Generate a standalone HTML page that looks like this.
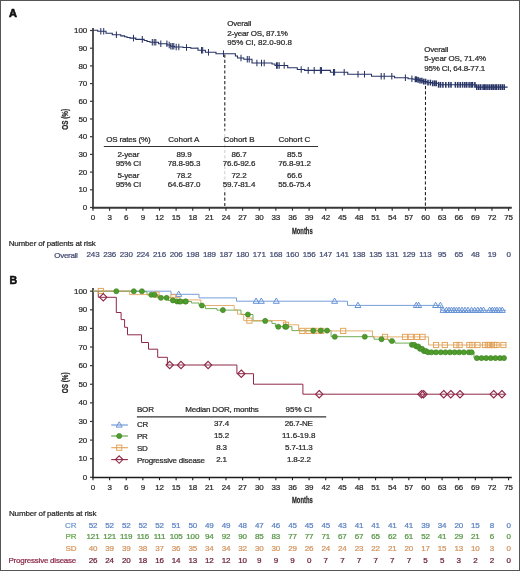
<!DOCTYPE html>
<html><head><meta charset="utf-8"><style>
html,body{margin:0;padding:0;background:#fff;}
#wrap{position:relative;width:520px;height:571px;overflow:hidden;background:#fff;}
#frame{position:absolute;left:0;top:0;width:518px;height:569px;border:1px solid #555;}
svg{position:absolute;left:0;top:0;will-change:transform;}
svg text{font-family:"Liberation Sans", sans-serif;}
</style></head><body>
<div id="wrap">
<svg width="520" height="571" viewBox="0 0 520 571">
<text x="9.1" y="16.6" font-size="11" font-weight="bold" fill="#111" stroke="#111" stroke-width="0.65">A</text>
<line x1="93" y1="28" x2="93" y2="208.3" stroke="#555" stroke-width="2"/>
<line x1="92" y1="207.8" x2="511.8" y2="207.8" stroke="#383838" stroke-width="2"/>
<line x1="90" y1="207.50" x2="93" y2="207.50" stroke="#3a3a3a" stroke-width="1.2"/>
<text x="0" y="0" font-size="8.00" letter-spacing="-0.15" fill="#2a2a2a" stroke="#2a2a2a" stroke-width="0.24" text-anchor="end" transform="translate(87.00,210.10)" >0</text>
<line x1="90" y1="189.80" x2="93" y2="189.80" stroke="#3a3a3a" stroke-width="1.2"/>
<text x="0" y="0" font-size="8.00" letter-spacing="-0.15" fill="#2a2a2a" stroke="#2a2a2a" stroke-width="0.24" text-anchor="end" transform="translate(87.00,192.40)" >10</text>
<line x1="90" y1="172.10" x2="93" y2="172.10" stroke="#3a3a3a" stroke-width="1.2"/>
<text x="0" y="0" font-size="8.00" letter-spacing="-0.15" fill="#2a2a2a" stroke="#2a2a2a" stroke-width="0.24" text-anchor="end" transform="translate(87.00,174.70)" >20</text>
<line x1="90" y1="154.40" x2="93" y2="154.40" stroke="#3a3a3a" stroke-width="1.2"/>
<text x="0" y="0" font-size="8.00" letter-spacing="-0.15" fill="#2a2a2a" stroke="#2a2a2a" stroke-width="0.24" text-anchor="end" transform="translate(87.00,157.00)" >30</text>
<line x1="90" y1="136.70" x2="93" y2="136.70" stroke="#3a3a3a" stroke-width="1.2"/>
<text x="0" y="0" font-size="8.00" letter-spacing="-0.15" fill="#2a2a2a" stroke="#2a2a2a" stroke-width="0.24" text-anchor="end" transform="translate(87.00,139.30)" >40</text>
<line x1="90" y1="119.00" x2="93" y2="119.00" stroke="#3a3a3a" stroke-width="1.2"/>
<text x="0" y="0" font-size="8.00" letter-spacing="-0.15" fill="#2a2a2a" stroke="#2a2a2a" stroke-width="0.24" text-anchor="end" transform="translate(87.00,121.60)" >50</text>
<line x1="90" y1="101.30" x2="93" y2="101.30" stroke="#3a3a3a" stroke-width="1.2"/>
<text x="0" y="0" font-size="8.00" letter-spacing="-0.15" fill="#2a2a2a" stroke="#2a2a2a" stroke-width="0.24" text-anchor="end" transform="translate(87.00,103.90)" >60</text>
<line x1="90" y1="83.60" x2="93" y2="83.60" stroke="#3a3a3a" stroke-width="1.2"/>
<text x="0" y="0" font-size="8.00" letter-spacing="-0.15" fill="#2a2a2a" stroke="#2a2a2a" stroke-width="0.24" text-anchor="end" transform="translate(87.00,86.20)" >70</text>
<line x1="90" y1="65.90" x2="93" y2="65.90" stroke="#3a3a3a" stroke-width="1.2"/>
<text x="0" y="0" font-size="8.00" letter-spacing="-0.15" fill="#2a2a2a" stroke="#2a2a2a" stroke-width="0.24" text-anchor="end" transform="translate(87.00,68.50)" >80</text>
<line x1="90" y1="48.20" x2="93" y2="48.20" stroke="#3a3a3a" stroke-width="1.2"/>
<text x="0" y="0" font-size="8.00" letter-spacing="-0.15" fill="#2a2a2a" stroke="#2a2a2a" stroke-width="0.24" text-anchor="end" transform="translate(87.00,50.80)" >90</text>
<line x1="90" y1="30.50" x2="93" y2="30.50" stroke="#3a3a3a" stroke-width="1.2"/>
<text x="0" y="0" font-size="8.00" letter-spacing="-0.15" fill="#2a2a2a" stroke="#2a2a2a" stroke-width="0.24" text-anchor="end" transform="translate(87.00,33.10)" >100</text>
<line x1="93.00" y1="207.5" x2="93.00" y2="210.7" stroke="#2a2a2a" stroke-width="1.1"/>
<text x="0" y="0" font-size="8.00" letter-spacing="-0.15" fill="#2a2a2a" stroke="#2a2a2a" stroke-width="0.24" text-anchor="middle" transform="translate(93.00,220.20)" >0</text>
<line x1="109.62" y1="207.5" x2="109.62" y2="210.7" stroke="#2a2a2a" stroke-width="1.1"/>
<text x="0" y="0" font-size="8.00" letter-spacing="-0.15" fill="#2a2a2a" stroke="#2a2a2a" stroke-width="0.24" text-anchor="middle" transform="translate(109.62,220.20)" >3</text>
<line x1="126.25" y1="207.5" x2="126.25" y2="210.7" stroke="#2a2a2a" stroke-width="1.1"/>
<text x="0" y="0" font-size="8.00" letter-spacing="-0.15" fill="#2a2a2a" stroke="#2a2a2a" stroke-width="0.24" text-anchor="middle" transform="translate(126.25,220.20)" >6</text>
<line x1="142.87" y1="207.5" x2="142.87" y2="210.7" stroke="#2a2a2a" stroke-width="1.1"/>
<text x="0" y="0" font-size="8.00" letter-spacing="-0.15" fill="#2a2a2a" stroke="#2a2a2a" stroke-width="0.24" text-anchor="middle" transform="translate(142.87,220.20)" >9</text>
<line x1="159.49" y1="207.5" x2="159.49" y2="210.7" stroke="#2a2a2a" stroke-width="1.1"/>
<text x="0" y="0" font-size="8.00" letter-spacing="-0.15" fill="#2a2a2a" stroke="#2a2a2a" stroke-width="0.24" text-anchor="middle" transform="translate(159.49,220.20)" >12</text>
<line x1="176.12" y1="207.5" x2="176.12" y2="210.7" stroke="#2a2a2a" stroke-width="1.1"/>
<text x="0" y="0" font-size="8.00" letter-spacing="-0.15" fill="#2a2a2a" stroke="#2a2a2a" stroke-width="0.24" text-anchor="middle" transform="translate(176.12,220.20)" >15</text>
<line x1="192.74" y1="207.5" x2="192.74" y2="210.7" stroke="#2a2a2a" stroke-width="1.1"/>
<text x="0" y="0" font-size="8.00" letter-spacing="-0.15" fill="#2a2a2a" stroke="#2a2a2a" stroke-width="0.24" text-anchor="middle" transform="translate(192.74,220.20)" >18</text>
<line x1="209.36" y1="207.5" x2="209.36" y2="210.7" stroke="#2a2a2a" stroke-width="1.1"/>
<text x="0" y="0" font-size="8.00" letter-spacing="-0.15" fill="#2a2a2a" stroke="#2a2a2a" stroke-width="0.24" text-anchor="middle" transform="translate(209.36,220.20)" >21</text>
<line x1="225.98" y1="207.5" x2="225.98" y2="210.7" stroke="#2a2a2a" stroke-width="1.1"/>
<text x="0" y="0" font-size="8.00" letter-spacing="-0.15" fill="#2a2a2a" stroke="#2a2a2a" stroke-width="0.24" text-anchor="middle" transform="translate(225.98,220.20)" >24</text>
<line x1="242.61" y1="207.5" x2="242.61" y2="210.7" stroke="#2a2a2a" stroke-width="1.1"/>
<text x="0" y="0" font-size="8.00" letter-spacing="-0.15" fill="#2a2a2a" stroke="#2a2a2a" stroke-width="0.24" text-anchor="middle" transform="translate(242.61,220.20)" >27</text>
<line x1="259.23" y1="207.5" x2="259.23" y2="210.7" stroke="#2a2a2a" stroke-width="1.1"/>
<text x="0" y="0" font-size="8.00" letter-spacing="-0.15" fill="#2a2a2a" stroke="#2a2a2a" stroke-width="0.24" text-anchor="middle" transform="translate(259.23,220.20)" >30</text>
<line x1="275.85" y1="207.5" x2="275.85" y2="210.7" stroke="#2a2a2a" stroke-width="1.1"/>
<text x="0" y="0" font-size="8.00" letter-spacing="-0.15" fill="#2a2a2a" stroke="#2a2a2a" stroke-width="0.24" text-anchor="middle" transform="translate(275.85,220.20)" >33</text>
<line x1="292.48" y1="207.5" x2="292.48" y2="210.7" stroke="#2a2a2a" stroke-width="1.1"/>
<text x="0" y="0" font-size="8.00" letter-spacing="-0.15" fill="#2a2a2a" stroke="#2a2a2a" stroke-width="0.24" text-anchor="middle" transform="translate(292.48,220.20)" >36</text>
<line x1="309.10" y1="207.5" x2="309.10" y2="210.7" stroke="#2a2a2a" stroke-width="1.1"/>
<text x="0" y="0" font-size="8.00" letter-spacing="-0.15" fill="#2a2a2a" stroke="#2a2a2a" stroke-width="0.24" text-anchor="middle" transform="translate(309.10,220.20)" >39</text>
<line x1="325.72" y1="207.5" x2="325.72" y2="210.7" stroke="#2a2a2a" stroke-width="1.1"/>
<text x="0" y="0" font-size="8.00" letter-spacing="-0.15" fill="#2a2a2a" stroke="#2a2a2a" stroke-width="0.24" text-anchor="middle" transform="translate(325.72,220.20)" >42</text>
<line x1="342.35" y1="207.5" x2="342.35" y2="210.7" stroke="#2a2a2a" stroke-width="1.1"/>
<text x="0" y="0" font-size="8.00" letter-spacing="-0.15" fill="#2a2a2a" stroke="#2a2a2a" stroke-width="0.24" text-anchor="middle" transform="translate(342.35,220.20)" >45</text>
<line x1="358.97" y1="207.5" x2="358.97" y2="210.7" stroke="#2a2a2a" stroke-width="1.1"/>
<text x="0" y="0" font-size="8.00" letter-spacing="-0.15" fill="#2a2a2a" stroke="#2a2a2a" stroke-width="0.24" text-anchor="middle" transform="translate(358.97,220.20)" >48</text>
<line x1="375.59" y1="207.5" x2="375.59" y2="210.7" stroke="#2a2a2a" stroke-width="1.1"/>
<text x="0" y="0" font-size="8.00" letter-spacing="-0.15" fill="#2a2a2a" stroke="#2a2a2a" stroke-width="0.24" text-anchor="middle" transform="translate(375.59,220.20)" >51</text>
<line x1="392.21" y1="207.5" x2="392.21" y2="210.7" stroke="#2a2a2a" stroke-width="1.1"/>
<text x="0" y="0" font-size="8.00" letter-spacing="-0.15" fill="#2a2a2a" stroke="#2a2a2a" stroke-width="0.24" text-anchor="middle" transform="translate(392.21,220.20)" >54</text>
<line x1="408.84" y1="207.5" x2="408.84" y2="210.7" stroke="#2a2a2a" stroke-width="1.1"/>
<text x="0" y="0" font-size="8.00" letter-spacing="-0.15" fill="#2a2a2a" stroke="#2a2a2a" stroke-width="0.24" text-anchor="middle" transform="translate(408.84,220.20)" >57</text>
<line x1="425.46" y1="207.5" x2="425.46" y2="210.7" stroke="#2a2a2a" stroke-width="1.1"/>
<text x="0" y="0" font-size="8.00" letter-spacing="-0.15" fill="#2a2a2a" stroke="#2a2a2a" stroke-width="0.24" text-anchor="middle" transform="translate(425.46,220.20)" >60</text>
<line x1="442.08" y1="207.5" x2="442.08" y2="210.7" stroke="#2a2a2a" stroke-width="1.1"/>
<text x="0" y="0" font-size="8.00" letter-spacing="-0.15" fill="#2a2a2a" stroke="#2a2a2a" stroke-width="0.24" text-anchor="middle" transform="translate(442.08,220.20)" >63</text>
<line x1="458.71" y1="207.5" x2="458.71" y2="210.7" stroke="#2a2a2a" stroke-width="1.1"/>
<text x="0" y="0" font-size="8.00" letter-spacing="-0.15" fill="#2a2a2a" stroke="#2a2a2a" stroke-width="0.24" text-anchor="middle" transform="translate(458.71,220.20)" >66</text>
<line x1="475.33" y1="207.5" x2="475.33" y2="210.7" stroke="#2a2a2a" stroke-width="1.1"/>
<text x="0" y="0" font-size="8.00" letter-spacing="-0.15" fill="#2a2a2a" stroke="#2a2a2a" stroke-width="0.24" text-anchor="middle" transform="translate(475.33,220.20)" >69</text>
<line x1="491.95" y1="207.5" x2="491.95" y2="210.7" stroke="#2a2a2a" stroke-width="1.1"/>
<text x="0" y="0" font-size="8.00" letter-spacing="-0.15" fill="#2a2a2a" stroke="#2a2a2a" stroke-width="0.24" text-anchor="middle" transform="translate(491.95,220.20)" >72</text>
<line x1="508.58" y1="207.5" x2="508.58" y2="210.7" stroke="#2a2a2a" stroke-width="1.1"/>
<text x="0" y="0" font-size="8.00" letter-spacing="-0.15" fill="#2a2a2a" stroke="#2a2a2a" stroke-width="0.24" text-anchor="middle" transform="translate(508.58,220.20)" >75</text>
<text x="0" y="0" font-size="9.4" font-weight="bold" fill="#2a2a2a" stroke="#2a2a2a" stroke-width="0.25" text-anchor="middle" transform="translate(68.1,119.3) rotate(-90) scale(0.68,1)">OS (%)</text>
<text x="0" y="0" font-size="8.8" font-weight="bold" fill="#2a2a2a" stroke="#2a2a2a" stroke-width="0.25" text-anchor="middle" transform="translate(302.3,233.9) scale(0.665,1)">Months</text>
<path d="M93.0,30.3 L97.7,30.3 L97.7,31.3 L106.0,31.3 L106.0,33.2 L112.3,33.2 L112.3,34.8 L120.8,34.8 L120.8,35.9 L124.6,35.9 L124.6,36.7 L127.0,36.7 L127.0,37.5 L130.0,37.5 L130.0,38.1 L135.8,38.1 L135.8,39.4 L144.2,39.4 L144.2,40.5 L147.0,40.5 L147.0,41.5 L150.0,41.5 L150.0,42.3 L158.5,42.3 L158.5,43.7 L167.0,43.7 L167.0,45.0 L170.3,45.0 L170.3,46.2 L174.5,46.2 L174.5,47.0 L183.0,47.0 L183.0,47.5 L190.8,47.5 L190.8,48.2 L198.0,48.0 L198.0,50.3 L205.4,50.3 L205.4,52.3 L216.0,52.3 L216.0,53.7 L235.4,53.7 L235.4,56.0 L237.5,56.0 L237.5,58.0 L243.8,58.0 L243.8,59.2 L252.0,59.2 L252.0,63.0 L272.0,63.0 L272.0,64.0 L275.0,64.0 L275.0,65.5 L287.7,65.5 L287.7,67.7 L297.3,67.7 L297.3,69.5 L304.6,69.5 L304.6,70.4 L330.4,70.4 L330.4,72.3 L347.7,72.3 L347.7,74.2 L371.5,74.2 L371.5,76.2 L394.6,76.2 L394.6,77.8 L408.1,77.8 L408.1,78.8 L413.0,78.8 L413.0,79.3 L417.0,79.3 L417.0,79.9 L420.0,79.9 L420.0,80.6 L423.0,80.6 L423.0,81.6 L427.0,81.6 L427.0,82.6 L432.0,82.6 L432.0,83.3 L438.6,83.3 L438.6,84.8 L475.9,84.8 L475.9,87.1 L507.6,87.1" fill="none" stroke="#283466" stroke-width="1.1"/>
<line x1="100.8" y1="28.0" x2="100.8" y2="34.6" stroke="#283466" stroke-width="1.05"/>
<line x1="103.7" y1="28.0" x2="103.7" y2="34.6" stroke="#283466" stroke-width="1.05"/>
<line x1="116.4" y1="31.5" x2="116.4" y2="38.1" stroke="#283466" stroke-width="1.05"/>
<line x1="133.5" y1="34.8" x2="133.5" y2="41.4" stroke="#283466" stroke-width="1.05"/>
<line x1="142.3" y1="36.1" x2="142.3" y2="42.7" stroke="#283466" stroke-width="1.05"/>
<line x1="152.3" y1="39.0" x2="152.3" y2="45.6" stroke="#283466" stroke-width="1.05"/>
<line x1="154.2" y1="39.0" x2="154.2" y2="45.6" stroke="#283466" stroke-width="1.05"/>
<line x1="155.8" y1="39.0" x2="155.8" y2="45.6" stroke="#283466" stroke-width="1.05"/>
<line x1="160.8" y1="40.4" x2="160.8" y2="47.0" stroke="#283466" stroke-width="1.05"/>
<line x1="166.9" y1="40.4" x2="166.9" y2="47.0" stroke="#283466" stroke-width="1.05"/>
<line x1="169.2" y1="41.7" x2="169.2" y2="48.3" stroke="#283466" stroke-width="1.05"/>
<line x1="170.8" y1="42.9" x2="170.8" y2="49.5" stroke="#283466" stroke-width="1.05"/>
<line x1="172.3" y1="42.9" x2="172.3" y2="49.5" stroke="#283466" stroke-width="1.05"/>
<line x1="173.8" y1="42.9" x2="173.8" y2="49.5" stroke="#283466" stroke-width="1.05"/>
<line x1="176.2" y1="43.7" x2="176.2" y2="50.3" stroke="#283466" stroke-width="1.05"/>
<line x1="178.8" y1="43.7" x2="178.8" y2="50.3" stroke="#283466" stroke-width="1.05"/>
<line x1="186.5" y1="44.2" x2="186.5" y2="50.8" stroke="#283466" stroke-width="1.05"/>
<line x1="201.5" y1="47.0" x2="201.5" y2="53.6" stroke="#283466" stroke-width="1.05"/>
<line x1="202.7" y1="47.0" x2="202.7" y2="53.6" stroke="#283466" stroke-width="1.05"/>
<line x1="208.5" y1="49.0" x2="208.5" y2="55.6" stroke="#283466" stroke-width="1.05"/>
<line x1="223.5" y1="50.4" x2="223.5" y2="57.0" stroke="#283466" stroke-width="1.05"/>
<line x1="241.0" y1="54.7" x2="241.0" y2="61.3" stroke="#283466" stroke-width="1.05"/>
<line x1="247.3" y1="55.9" x2="247.3" y2="62.5" stroke="#283466" stroke-width="1.05"/>
<line x1="249.2" y1="55.9" x2="249.2" y2="62.5" stroke="#283466" stroke-width="1.05"/>
<line x1="256.9" y1="59.7" x2="256.9" y2="66.3" stroke="#283466" stroke-width="1.05"/>
<line x1="261.5" y1="59.7" x2="261.5" y2="66.3" stroke="#283466" stroke-width="1.05"/>
<line x1="264.2" y1="59.7" x2="264.2" y2="66.3" stroke="#283466" stroke-width="1.05"/>
<line x1="276.5" y1="62.2" x2="276.5" y2="68.8" stroke="#283466" stroke-width="1.05"/>
<line x1="277.7" y1="62.2" x2="277.7" y2="68.8" stroke="#283466" stroke-width="1.05"/>
<line x1="279.2" y1="62.2" x2="279.2" y2="68.8" stroke="#283466" stroke-width="1.05"/>
<line x1="284.2" y1="62.2" x2="284.2" y2="68.8" stroke="#283466" stroke-width="1.05"/>
<line x1="301.2" y1="66.2" x2="301.2" y2="72.8" stroke="#283466" stroke-width="1.05"/>
<line x1="308.2" y1="67.1" x2="308.2" y2="73.7" stroke="#283466" stroke-width="1.05"/>
<line x1="314.2" y1="67.1" x2="314.2" y2="73.7" stroke="#283466" stroke-width="1.05"/>
<line x1="320.4" y1="67.1" x2="320.4" y2="73.7" stroke="#283466" stroke-width="1.05"/>
<line x1="321.5" y1="67.1" x2="321.5" y2="73.7" stroke="#283466" stroke-width="1.05"/>
<line x1="333.5" y1="69.0" x2="333.5" y2="75.6" stroke="#283466" stroke-width="1.05"/>
<line x1="334.6" y1="69.0" x2="334.6" y2="75.6" stroke="#283466" stroke-width="1.05"/>
<line x1="344.2" y1="69.0" x2="344.2" y2="75.6" stroke="#283466" stroke-width="1.05"/>
<line x1="358.0" y1="70.9" x2="358.0" y2="77.5" stroke="#283466" stroke-width="1.05"/>
<line x1="364.5" y1="70.9" x2="364.5" y2="77.5" stroke="#283466" stroke-width="1.05"/>
<line x1="381.2" y1="72.9" x2="381.2" y2="79.5" stroke="#283466" stroke-width="1.05"/>
<line x1="384.2" y1="72.9" x2="384.2" y2="79.5" stroke="#283466" stroke-width="1.05"/>
<line x1="391.8" y1="72.9" x2="391.8" y2="79.5" stroke="#283466" stroke-width="1.05"/>
<line x1="405.4" y1="74.5" x2="405.4" y2="81.1" stroke="#283466" stroke-width="1.05"/>
<line x1="411.9" y1="75.5" x2="411.9" y2="82.1" stroke="#283466" stroke-width="1.05"/>
<line x1="415.4" y1="76.4" x2="415.4" y2="82.2" stroke="#283466" stroke-width="1.55"/>
<line x1="416.5" y1="76.4" x2="416.5" y2="82.2" stroke="#283466" stroke-width="1.55"/>
<line x1="418.1" y1="77.0" x2="418.1" y2="82.8" stroke="#283466" stroke-width="1.55"/>
<line x1="420.0" y1="77.7" x2="420.0" y2="83.5" stroke="#283466" stroke-width="1.55"/>
<line x1="421.9" y1="77.7" x2="421.9" y2="83.5" stroke="#283466" stroke-width="1.55"/>
<line x1="423.8" y1="78.7" x2="423.8" y2="84.5" stroke="#283466" stroke-width="1.55"/>
<line x1="425.6" y1="78.7" x2="425.6" y2="84.5" stroke="#283466" stroke-width="1.55"/>
<line x1="428.0" y1="79.7" x2="428.0" y2="85.5" stroke="#283466" stroke-width="1.55"/>
<line x1="430.4" y1="79.7" x2="430.4" y2="85.5" stroke="#283466" stroke-width="1.55"/>
<line x1="432.8" y1="80.4" x2="432.8" y2="86.2" stroke="#283466" stroke-width="1.55"/>
<line x1="434.7" y1="80.4" x2="434.7" y2="86.2" stroke="#283466" stroke-width="1.55"/>
<line x1="436.2" y1="80.4" x2="436.2" y2="86.2" stroke="#283466" stroke-width="1.55"/>
<line x1="438.6" y1="81.9" x2="438.6" y2="87.7" stroke="#283466" stroke-width="1.55"/>
<line x1="440.5" y1="81.9" x2="440.5" y2="87.7" stroke="#283466" stroke-width="1.55"/>
<line x1="442.9" y1="81.9" x2="442.9" y2="87.7" stroke="#283466" stroke-width="1.55"/>
<line x1="445.8" y1="81.9" x2="445.8" y2="87.7" stroke="#283466" stroke-width="1.55"/>
<line x1="448.7" y1="81.9" x2="448.7" y2="87.7" stroke="#283466" stroke-width="1.55"/>
<line x1="451.0" y1="81.9" x2="451.0" y2="87.7" stroke="#283466" stroke-width="1.55"/>
<line x1="455.4" y1="81.9" x2="455.4" y2="87.7" stroke="#283466" stroke-width="1.55"/>
<line x1="457.8" y1="81.9" x2="457.8" y2="87.7" stroke="#283466" stroke-width="1.55"/>
<line x1="460.2" y1="81.9" x2="460.2" y2="87.7" stroke="#283466" stroke-width="1.55"/>
<line x1="462.6" y1="81.9" x2="462.6" y2="87.7" stroke="#283466" stroke-width="1.55"/>
<line x1="464.8" y1="81.9" x2="464.8" y2="87.7" stroke="#283466" stroke-width="1.55"/>
<line x1="466.7" y1="81.9" x2="466.7" y2="87.7" stroke="#283466" stroke-width="1.55"/>
<line x1="469.1" y1="81.9" x2="469.1" y2="87.7" stroke="#283466" stroke-width="1.55"/>
<line x1="471.1" y1="81.9" x2="471.1" y2="87.7" stroke="#283466" stroke-width="1.55"/>
<line x1="472.5" y1="81.9" x2="472.5" y2="87.7" stroke="#283466" stroke-width="1.55"/>
<line x1="474.9" y1="81.9" x2="474.9" y2="87.7" stroke="#283466" stroke-width="1.55"/>
<line x1="476.8" y1="84.2" x2="476.8" y2="90.0" stroke="#283466" stroke-width="1.55"/>
<line x1="478.8" y1="84.2" x2="478.8" y2="90.0" stroke="#283466" stroke-width="1.55"/>
<line x1="480.7" y1="84.2" x2="480.7" y2="90.0" stroke="#283466" stroke-width="1.55"/>
<line x1="483.1" y1="84.2" x2="483.1" y2="90.0" stroke="#283466" stroke-width="1.55"/>
<line x1="484.5" y1="84.2" x2="484.5" y2="90.0" stroke="#283466" stroke-width="1.55"/>
<line x1="486.0" y1="84.2" x2="486.0" y2="90.0" stroke="#283466" stroke-width="1.55"/>
<line x1="487.9" y1="84.2" x2="487.9" y2="90.0" stroke="#283466" stroke-width="1.55"/>
<line x1="489.8" y1="84.2" x2="489.8" y2="90.0" stroke="#283466" stroke-width="1.55"/>
<line x1="491.7" y1="84.2" x2="491.7" y2="90.0" stroke="#283466" stroke-width="1.55"/>
<line x1="493.2" y1="84.2" x2="493.2" y2="90.0" stroke="#283466" stroke-width="1.55"/>
<line x1="495.1" y1="84.2" x2="495.1" y2="90.0" stroke="#283466" stroke-width="1.55"/>
<line x1="496.5" y1="84.2" x2="496.5" y2="90.0" stroke="#283466" stroke-width="1.55"/>
<line x1="498.5" y1="84.2" x2="498.5" y2="90.0" stroke="#283466" stroke-width="1.55"/>
<line x1="500.4" y1="84.2" x2="500.4" y2="90.0" stroke="#283466" stroke-width="1.55"/>
<line x1="502.3" y1="84.2" x2="502.3" y2="90.0" stroke="#283466" stroke-width="1.55"/>
<line x1="504.2" y1="84.2" x2="504.2" y2="90.0" stroke="#283466" stroke-width="1.55"/>
<line x1="224.8" y1="54.5" x2="224.8" y2="207" stroke="#1a1a1a" stroke-width="1.05" stroke-dasharray="3.2,2.1"/>
<line x1="425.5" y1="86" x2="425.4" y2="207" stroke="#1a1a1a" stroke-width="1.05" stroke-dasharray="3.2,2.1"/>
<text x="0" y="0" font-size="8.00" textLength="24.00" lengthAdjust="spacing" fill="#2a2a2a" stroke="#2a2a2a" stroke-width="0.24" text-anchor="start" transform="translate(227.30,26.10)" >Overall</text>
<text x="0" y="0" font-size="8.00" textLength="60.60" lengthAdjust="spacing" fill="#2a2a2a" stroke="#2a2a2a" stroke-width="0.24" text-anchor="start" transform="translate(227.30,35.70)" >2-year OS, 87.1%</text>
<text x="0" y="0" font-size="8.00" textLength="64.60" lengthAdjust="spacing" fill="#2a2a2a" stroke="#2a2a2a" stroke-width="0.24" text-anchor="start" transform="translate(227.30,45.30)" >95% CI, 82.0-90.8</text>
<text x="0" y="0" font-size="8.00" textLength="24.00" lengthAdjust="spacing" fill="#2a2a2a" stroke="#2a2a2a" stroke-width="0.24" text-anchor="start" transform="translate(424.30,51.70)" >Overall</text>
<text x="0" y="0" font-size="8.00" textLength="61.90" lengthAdjust="spacing" fill="#2a2a2a" stroke="#2a2a2a" stroke-width="0.24" text-anchor="start" transform="translate(424.30,61.30)" >5-year OS, 71.4%</text>
<text x="0" y="0" font-size="8.00" textLength="60.90" lengthAdjust="spacing" fill="#2a2a2a" stroke="#2a2a2a" stroke-width="0.24" text-anchor="start" transform="translate(424.30,70.90)" >95% CI, 64.8-77.1</text>
<rect x="103" y="130.5" width="216" height="61.5" fill="#fff" fill-opacity="0.8"/>
<text x="0" y="0" font-size="8.00" textLength="44.40" lengthAdjust="spacing" fill="#2a2a2a" stroke="#2a2a2a" stroke-width="0.24" text-anchor="start" transform="translate(106.20,141.90)" >OS rates (%)</text>
<text x="0" y="0" font-size="8.00" textLength="31.00" lengthAdjust="spacing" fill="#2a2a2a" stroke="#2a2a2a" stroke-width="0.24" text-anchor="middle" transform="translate(183.80,141.90)" >Cohort A</text>
<text x="0" y="0" font-size="8.00" textLength="31.00" lengthAdjust="spacing" fill="#2a2a2a" stroke="#2a2a2a" stroke-width="0.24" text-anchor="middle" transform="translate(239.00,141.90)" >Cohort B</text>
<text x="0" y="0" font-size="8.00" textLength="31.90" lengthAdjust="spacing" fill="#2a2a2a" stroke="#2a2a2a" stroke-width="0.24" text-anchor="middle" transform="translate(294.40,141.90)" >Cohort C</text>
<line x1="103.8" y1="146.5" x2="318" y2="146.5" stroke="#333" stroke-width="1.1"/>
<text x="0" y="0" font-size="8.00" letter-spacing="-0.15" fill="#2a2a2a" stroke="#2a2a2a" stroke-width="0.24" text-anchor="middle" transform="translate(128.30,157.00)" >2-year</text>
<text x="0" y="0" font-size="8.00" letter-spacing="-0.15" fill="#2a2a2a" stroke="#2a2a2a" stroke-width="0.24" text-anchor="middle" transform="translate(184.00,157.00)" >89.9</text>
<text x="0" y="0" font-size="8.00" letter-spacing="-0.15" fill="#2a2a2a" stroke="#2a2a2a" stroke-width="0.24" text-anchor="middle" transform="translate(239.00,157.00)" >86.7</text>
<text x="0" y="0" font-size="8.00" letter-spacing="-0.15" fill="#2a2a2a" stroke="#2a2a2a" stroke-width="0.24" text-anchor="middle" transform="translate(294.50,157.00)" >85.5</text>
<text x="0" y="0" font-size="8.00" letter-spacing="-0.15" fill="#2a2a2a" stroke="#2a2a2a" stroke-width="0.24" text-anchor="middle" transform="translate(128.30,166.00)" >95% CI</text>
<text x="0" y="0" font-size="8.00" letter-spacing="-0.15" fill="#2a2a2a" stroke="#2a2a2a" stroke-width="0.24" text-anchor="middle" transform="translate(184.00,166.00)" >78.8-95.3</text>
<text x="0" y="0" font-size="8.00" letter-spacing="-0.15" fill="#2a2a2a" stroke="#2a2a2a" stroke-width="0.24" text-anchor="middle" transform="translate(239.00,166.00)" >76.6-92.6</text>
<text x="0" y="0" font-size="8.00" letter-spacing="-0.15" fill="#2a2a2a" stroke="#2a2a2a" stroke-width="0.24" text-anchor="middle" transform="translate(294.50,166.00)" >76.8-91.2</text>
<text x="0" y="0" font-size="8.00" letter-spacing="-0.15" fill="#2a2a2a" stroke="#2a2a2a" stroke-width="0.24" text-anchor="middle" transform="translate(128.30,178.00)" >5-year</text>
<text x="0" y="0" font-size="8.00" letter-spacing="-0.15" fill="#2a2a2a" stroke="#2a2a2a" stroke-width="0.24" text-anchor="middle" transform="translate(184.00,178.00)" >78.2</text>
<text x="0" y="0" font-size="8.00" letter-spacing="-0.15" fill="#2a2a2a" stroke="#2a2a2a" stroke-width="0.24" text-anchor="middle" transform="translate(239.00,178.00)" >72.2</text>
<text x="0" y="0" font-size="8.00" letter-spacing="-0.15" fill="#2a2a2a" stroke="#2a2a2a" stroke-width="0.24" text-anchor="middle" transform="translate(294.50,178.00)" >66.6</text>
<text x="0" y="0" font-size="8.00" letter-spacing="-0.15" fill="#2a2a2a" stroke="#2a2a2a" stroke-width="0.24" text-anchor="middle" transform="translate(128.30,187.00)" >95% CI</text>
<text x="0" y="0" font-size="8.00" letter-spacing="-0.15" fill="#2a2a2a" stroke="#2a2a2a" stroke-width="0.24" text-anchor="middle" transform="translate(184.00,187.00)" >64.6-87.0</text>
<text x="0" y="0" font-size="8.00" letter-spacing="-0.15" fill="#2a2a2a" stroke="#2a2a2a" stroke-width="0.24" text-anchor="middle" transform="translate(239.00,187.00)" >59.7-81.4</text>
<text x="0" y="0" font-size="8.00" letter-spacing="-0.15" fill="#2a2a2a" stroke="#2a2a2a" stroke-width="0.24" text-anchor="middle" transform="translate(294.50,187.00)" >55.6-75.4</text>
<text x="0" y="0" font-size="8.00" textLength="87.10" lengthAdjust="spacing" fill="#2a2a2a" stroke="#2a2a2a" stroke-width="0.24" text-anchor="start" transform="translate(8.70,246.30)" >Number of patients at risk</text>
<text x="0" y="0" font-size="8.00" textLength="23.70" lengthAdjust="spacing" fill="#434b72" stroke="#434b72" stroke-width="0.24" text-anchor="end" transform="translate(77.90,257.90)" >Overall</text>
<text x="0" y="0" font-size="8.00" letter-spacing="-0.15" fill="#434b72" stroke="#434b72" stroke-width="0.24" text-anchor="middle" transform="translate(93.00,257.40)" >243</text>
<text x="0" y="0" font-size="8.00" letter-spacing="-0.15" fill="#434b72" stroke="#434b72" stroke-width="0.24" text-anchor="middle" transform="translate(109.62,257.40)" >236</text>
<text x="0" y="0" font-size="8.00" letter-spacing="-0.15" fill="#434b72" stroke="#434b72" stroke-width="0.24" text-anchor="middle" transform="translate(126.25,257.40)" >230</text>
<text x="0" y="0" font-size="8.00" letter-spacing="-0.15" fill="#434b72" stroke="#434b72" stroke-width="0.24" text-anchor="middle" transform="translate(142.87,257.40)" >224</text>
<text x="0" y="0" font-size="8.00" letter-spacing="-0.15" fill="#434b72" stroke="#434b72" stroke-width="0.24" text-anchor="middle" transform="translate(159.49,257.40)" >216</text>
<text x="0" y="0" font-size="8.00" letter-spacing="-0.15" fill="#434b72" stroke="#434b72" stroke-width="0.24" text-anchor="middle" transform="translate(176.12,257.40)" >206</text>
<text x="0" y="0" font-size="8.00" letter-spacing="-0.15" fill="#434b72" stroke="#434b72" stroke-width="0.24" text-anchor="middle" transform="translate(192.74,257.40)" >198</text>
<text x="0" y="0" font-size="8.00" letter-spacing="-0.15" fill="#434b72" stroke="#434b72" stroke-width="0.24" text-anchor="middle" transform="translate(209.36,257.40)" >189</text>
<text x="0" y="0" font-size="8.00" letter-spacing="-0.15" fill="#434b72" stroke="#434b72" stroke-width="0.24" text-anchor="middle" transform="translate(225.98,257.40)" >187</text>
<text x="0" y="0" font-size="8.00" letter-spacing="-0.15" fill="#434b72" stroke="#434b72" stroke-width="0.24" text-anchor="middle" transform="translate(242.61,257.40)" >180</text>
<text x="0" y="0" font-size="8.00" letter-spacing="-0.15" fill="#434b72" stroke="#434b72" stroke-width="0.24" text-anchor="middle" transform="translate(259.23,257.40)" >171</text>
<text x="0" y="0" font-size="8.00" letter-spacing="-0.15" fill="#434b72" stroke="#434b72" stroke-width="0.24" text-anchor="middle" transform="translate(275.85,257.40)" >168</text>
<text x="0" y="0" font-size="8.00" letter-spacing="-0.15" fill="#434b72" stroke="#434b72" stroke-width="0.24" text-anchor="middle" transform="translate(292.48,257.40)" >160</text>
<text x="0" y="0" font-size="8.00" letter-spacing="-0.15" fill="#434b72" stroke="#434b72" stroke-width="0.24" text-anchor="middle" transform="translate(309.10,257.40)" >156</text>
<text x="0" y="0" font-size="8.00" letter-spacing="-0.15" fill="#434b72" stroke="#434b72" stroke-width="0.24" text-anchor="middle" transform="translate(325.72,257.40)" >147</text>
<text x="0" y="0" font-size="8.00" letter-spacing="-0.15" fill="#434b72" stroke="#434b72" stroke-width="0.24" text-anchor="middle" transform="translate(342.35,257.40)" >141</text>
<text x="0" y="0" font-size="8.00" letter-spacing="-0.15" fill="#434b72" stroke="#434b72" stroke-width="0.24" text-anchor="middle" transform="translate(358.97,257.40)" >138</text>
<text x="0" y="0" font-size="8.00" letter-spacing="-0.15" fill="#434b72" stroke="#434b72" stroke-width="0.24" text-anchor="middle" transform="translate(375.59,257.40)" >135</text>
<text x="0" y="0" font-size="8.00" letter-spacing="-0.15" fill="#434b72" stroke="#434b72" stroke-width="0.24" text-anchor="middle" transform="translate(392.21,257.40)" >131</text>
<text x="0" y="0" font-size="8.00" letter-spacing="-0.15" fill="#434b72" stroke="#434b72" stroke-width="0.24" text-anchor="middle" transform="translate(408.84,257.40)" >129</text>
<text x="0" y="0" font-size="8.00" letter-spacing="-0.15" fill="#434b72" stroke="#434b72" stroke-width="0.24" text-anchor="middle" transform="translate(425.46,257.40)" >113</text>
<text x="0" y="0" font-size="8.00" letter-spacing="-0.15" fill="#434b72" stroke="#434b72" stroke-width="0.24" text-anchor="middle" transform="translate(442.08,257.40)" >95</text>
<text x="0" y="0" font-size="8.00" letter-spacing="-0.15" fill="#434b72" stroke="#434b72" stroke-width="0.24" text-anchor="middle" transform="translate(458.71,257.40)" >65</text>
<text x="0" y="0" font-size="8.00" letter-spacing="-0.15" fill="#434b72" stroke="#434b72" stroke-width="0.24" text-anchor="middle" transform="translate(475.33,257.40)" >48</text>
<text x="0" y="0" font-size="8.00" letter-spacing="-0.15" fill="#434b72" stroke="#434b72" stroke-width="0.24" text-anchor="middle" transform="translate(491.95,257.40)" >19</text>
<text x="0" y="0" font-size="8.00" letter-spacing="-0.15" fill="#434b72" stroke="#434b72" stroke-width="0.24" text-anchor="middle" transform="translate(508.58,257.40)" >0</text>
<text x="9.4" y="283.9" font-size="10.6" font-weight="bold" fill="#111" stroke="#111" stroke-width="0.55">B</text>
<line x1="93" y1="288" x2="93" y2="478.1" stroke="#555" stroke-width="2"/>
<line x1="92" y1="477.4" x2="511.8" y2="477.4" stroke="#1c1c1c" stroke-width="1.5"/>
<line x1="90" y1="477.30" x2="93" y2="477.30" stroke="#3a3a3a" stroke-width="1.2"/>
<text x="0" y="0" font-size="8.00" letter-spacing="-0.15" fill="#2a2a2a" stroke="#2a2a2a" stroke-width="0.24" text-anchor="end" transform="translate(87.00,479.90)" >0</text>
<line x1="90" y1="458.69" x2="93" y2="458.69" stroke="#3a3a3a" stroke-width="1.2"/>
<text x="0" y="0" font-size="8.00" letter-spacing="-0.15" fill="#2a2a2a" stroke="#2a2a2a" stroke-width="0.24" text-anchor="end" transform="translate(87.00,461.29)" >10</text>
<line x1="90" y1="440.08" x2="93" y2="440.08" stroke="#3a3a3a" stroke-width="1.2"/>
<text x="0" y="0" font-size="8.00" letter-spacing="-0.15" fill="#2a2a2a" stroke="#2a2a2a" stroke-width="0.24" text-anchor="end" transform="translate(87.00,442.68)" >20</text>
<line x1="90" y1="421.47" x2="93" y2="421.47" stroke="#3a3a3a" stroke-width="1.2"/>
<text x="0" y="0" font-size="8.00" letter-spacing="-0.15" fill="#2a2a2a" stroke="#2a2a2a" stroke-width="0.24" text-anchor="end" transform="translate(87.00,424.07)" >30</text>
<line x1="90" y1="402.86" x2="93" y2="402.86" stroke="#3a3a3a" stroke-width="1.2"/>
<text x="0" y="0" font-size="8.00" letter-spacing="-0.15" fill="#2a2a2a" stroke="#2a2a2a" stroke-width="0.24" text-anchor="end" transform="translate(87.00,405.46)" >40</text>
<line x1="90" y1="384.25" x2="93" y2="384.25" stroke="#3a3a3a" stroke-width="1.2"/>
<text x="0" y="0" font-size="8.00" letter-spacing="-0.15" fill="#2a2a2a" stroke="#2a2a2a" stroke-width="0.24" text-anchor="end" transform="translate(87.00,386.85)" >50</text>
<line x1="90" y1="365.64" x2="93" y2="365.64" stroke="#3a3a3a" stroke-width="1.2"/>
<text x="0" y="0" font-size="8.00" letter-spacing="-0.15" fill="#2a2a2a" stroke="#2a2a2a" stroke-width="0.24" text-anchor="end" transform="translate(87.00,368.24)" >60</text>
<line x1="90" y1="347.03" x2="93" y2="347.03" stroke="#3a3a3a" stroke-width="1.2"/>
<text x="0" y="0" font-size="8.00" letter-spacing="-0.15" fill="#2a2a2a" stroke="#2a2a2a" stroke-width="0.24" text-anchor="end" transform="translate(87.00,349.63)" >70</text>
<line x1="90" y1="328.42" x2="93" y2="328.42" stroke="#3a3a3a" stroke-width="1.2"/>
<text x="0" y="0" font-size="8.00" letter-spacing="-0.15" fill="#2a2a2a" stroke="#2a2a2a" stroke-width="0.24" text-anchor="end" transform="translate(87.00,331.02)" >80</text>
<line x1="90" y1="309.81" x2="93" y2="309.81" stroke="#3a3a3a" stroke-width="1.2"/>
<text x="0" y="0" font-size="8.00" letter-spacing="-0.15" fill="#2a2a2a" stroke="#2a2a2a" stroke-width="0.24" text-anchor="end" transform="translate(87.00,312.41)" >90</text>
<line x1="90" y1="291.20" x2="93" y2="291.20" stroke="#3a3a3a" stroke-width="1.2"/>
<text x="0" y="0" font-size="8.00" letter-spacing="-0.15" fill="#2a2a2a" stroke="#2a2a2a" stroke-width="0.24" text-anchor="end" transform="translate(87.00,293.80)" >100</text>
<line x1="93.00" y1="477.3" x2="93.00" y2="480.2" stroke="#1c1c1c" stroke-width="1.1"/>
<text x="0" y="0" font-size="8.00" letter-spacing="-0.15" fill="#2a2a2a" stroke="#2a2a2a" stroke-width="0.24" text-anchor="middle" transform="translate(93.00,490.00)" >0</text>
<line x1="109.62" y1="477.3" x2="109.62" y2="480.2" stroke="#1c1c1c" stroke-width="1.1"/>
<text x="0" y="0" font-size="8.00" letter-spacing="-0.15" fill="#2a2a2a" stroke="#2a2a2a" stroke-width="0.24" text-anchor="middle" transform="translate(109.62,490.00)" >3</text>
<line x1="126.25" y1="477.3" x2="126.25" y2="480.2" stroke="#1c1c1c" stroke-width="1.1"/>
<text x="0" y="0" font-size="8.00" letter-spacing="-0.15" fill="#2a2a2a" stroke="#2a2a2a" stroke-width="0.24" text-anchor="middle" transform="translate(126.25,490.00)" >6</text>
<line x1="142.87" y1="477.3" x2="142.87" y2="480.2" stroke="#1c1c1c" stroke-width="1.1"/>
<text x="0" y="0" font-size="8.00" letter-spacing="-0.15" fill="#2a2a2a" stroke="#2a2a2a" stroke-width="0.24" text-anchor="middle" transform="translate(142.87,490.00)" >9</text>
<line x1="159.49" y1="477.3" x2="159.49" y2="480.2" stroke="#1c1c1c" stroke-width="1.1"/>
<text x="0" y="0" font-size="8.00" letter-spacing="-0.15" fill="#2a2a2a" stroke="#2a2a2a" stroke-width="0.24" text-anchor="middle" transform="translate(159.49,490.00)" >12</text>
<line x1="176.12" y1="477.3" x2="176.12" y2="480.2" stroke="#1c1c1c" stroke-width="1.1"/>
<text x="0" y="0" font-size="8.00" letter-spacing="-0.15" fill="#2a2a2a" stroke="#2a2a2a" stroke-width="0.24" text-anchor="middle" transform="translate(176.12,490.00)" >15</text>
<line x1="192.74" y1="477.3" x2="192.74" y2="480.2" stroke="#1c1c1c" stroke-width="1.1"/>
<text x="0" y="0" font-size="8.00" letter-spacing="-0.15" fill="#2a2a2a" stroke="#2a2a2a" stroke-width="0.24" text-anchor="middle" transform="translate(192.74,490.00)" >18</text>
<line x1="209.36" y1="477.3" x2="209.36" y2="480.2" stroke="#1c1c1c" stroke-width="1.1"/>
<text x="0" y="0" font-size="8.00" letter-spacing="-0.15" fill="#2a2a2a" stroke="#2a2a2a" stroke-width="0.24" text-anchor="middle" transform="translate(209.36,490.00)" >21</text>
<line x1="225.98" y1="477.3" x2="225.98" y2="480.2" stroke="#1c1c1c" stroke-width="1.1"/>
<text x="0" y="0" font-size="8.00" letter-spacing="-0.15" fill="#2a2a2a" stroke="#2a2a2a" stroke-width="0.24" text-anchor="middle" transform="translate(225.98,490.00)" >24</text>
<line x1="242.61" y1="477.3" x2="242.61" y2="480.2" stroke="#1c1c1c" stroke-width="1.1"/>
<text x="0" y="0" font-size="8.00" letter-spacing="-0.15" fill="#2a2a2a" stroke="#2a2a2a" stroke-width="0.24" text-anchor="middle" transform="translate(242.61,490.00)" >27</text>
<line x1="259.23" y1="477.3" x2="259.23" y2="480.2" stroke="#1c1c1c" stroke-width="1.1"/>
<text x="0" y="0" font-size="8.00" letter-spacing="-0.15" fill="#2a2a2a" stroke="#2a2a2a" stroke-width="0.24" text-anchor="middle" transform="translate(259.23,490.00)" >30</text>
<line x1="275.85" y1="477.3" x2="275.85" y2="480.2" stroke="#1c1c1c" stroke-width="1.1"/>
<text x="0" y="0" font-size="8.00" letter-spacing="-0.15" fill="#2a2a2a" stroke="#2a2a2a" stroke-width="0.24" text-anchor="middle" transform="translate(275.85,490.00)" >33</text>
<line x1="292.48" y1="477.3" x2="292.48" y2="480.2" stroke="#1c1c1c" stroke-width="1.1"/>
<text x="0" y="0" font-size="8.00" letter-spacing="-0.15" fill="#2a2a2a" stroke="#2a2a2a" stroke-width="0.24" text-anchor="middle" transform="translate(292.48,490.00)" >36</text>
<line x1="309.10" y1="477.3" x2="309.10" y2="480.2" stroke="#1c1c1c" stroke-width="1.1"/>
<text x="0" y="0" font-size="8.00" letter-spacing="-0.15" fill="#2a2a2a" stroke="#2a2a2a" stroke-width="0.24" text-anchor="middle" transform="translate(309.10,490.00)" >39</text>
<line x1="325.72" y1="477.3" x2="325.72" y2="480.2" stroke="#1c1c1c" stroke-width="1.1"/>
<text x="0" y="0" font-size="8.00" letter-spacing="-0.15" fill="#2a2a2a" stroke="#2a2a2a" stroke-width="0.24" text-anchor="middle" transform="translate(325.72,490.00)" >42</text>
<line x1="342.35" y1="477.3" x2="342.35" y2="480.2" stroke="#1c1c1c" stroke-width="1.1"/>
<text x="0" y="0" font-size="8.00" letter-spacing="-0.15" fill="#2a2a2a" stroke="#2a2a2a" stroke-width="0.24" text-anchor="middle" transform="translate(342.35,490.00)" >45</text>
<line x1="358.97" y1="477.3" x2="358.97" y2="480.2" stroke="#1c1c1c" stroke-width="1.1"/>
<text x="0" y="0" font-size="8.00" letter-spacing="-0.15" fill="#2a2a2a" stroke="#2a2a2a" stroke-width="0.24" text-anchor="middle" transform="translate(358.97,490.00)" >48</text>
<line x1="375.59" y1="477.3" x2="375.59" y2="480.2" stroke="#1c1c1c" stroke-width="1.1"/>
<text x="0" y="0" font-size="8.00" letter-spacing="-0.15" fill="#2a2a2a" stroke="#2a2a2a" stroke-width="0.24" text-anchor="middle" transform="translate(375.59,490.00)" >51</text>
<line x1="392.21" y1="477.3" x2="392.21" y2="480.2" stroke="#1c1c1c" stroke-width="1.1"/>
<text x="0" y="0" font-size="8.00" letter-spacing="-0.15" fill="#2a2a2a" stroke="#2a2a2a" stroke-width="0.24" text-anchor="middle" transform="translate(392.21,490.00)" >54</text>
<line x1="408.84" y1="477.3" x2="408.84" y2="480.2" stroke="#1c1c1c" stroke-width="1.1"/>
<text x="0" y="0" font-size="8.00" letter-spacing="-0.15" fill="#2a2a2a" stroke="#2a2a2a" stroke-width="0.24" text-anchor="middle" transform="translate(408.84,490.00)" >57</text>
<line x1="425.46" y1="477.3" x2="425.46" y2="480.2" stroke="#1c1c1c" stroke-width="1.1"/>
<text x="0" y="0" font-size="8.00" letter-spacing="-0.15" fill="#2a2a2a" stroke="#2a2a2a" stroke-width="0.24" text-anchor="middle" transform="translate(425.46,490.00)" >60</text>
<line x1="442.08" y1="477.3" x2="442.08" y2="480.2" stroke="#1c1c1c" stroke-width="1.1"/>
<text x="0" y="0" font-size="8.00" letter-spacing="-0.15" fill="#2a2a2a" stroke="#2a2a2a" stroke-width="0.24" text-anchor="middle" transform="translate(442.08,490.00)" >63</text>
<line x1="458.71" y1="477.3" x2="458.71" y2="480.2" stroke="#1c1c1c" stroke-width="1.1"/>
<text x="0" y="0" font-size="8.00" letter-spacing="-0.15" fill="#2a2a2a" stroke="#2a2a2a" stroke-width="0.24" text-anchor="middle" transform="translate(458.71,490.00)" >66</text>
<line x1="475.33" y1="477.3" x2="475.33" y2="480.2" stroke="#1c1c1c" stroke-width="1.1"/>
<text x="0" y="0" font-size="8.00" letter-spacing="-0.15" fill="#2a2a2a" stroke="#2a2a2a" stroke-width="0.24" text-anchor="middle" transform="translate(475.33,490.00)" >69</text>
<line x1="491.95" y1="477.3" x2="491.95" y2="480.2" stroke="#1c1c1c" stroke-width="1.1"/>
<text x="0" y="0" font-size="8.00" letter-spacing="-0.15" fill="#2a2a2a" stroke="#2a2a2a" stroke-width="0.24" text-anchor="middle" transform="translate(491.95,490.00)" >72</text>
<line x1="508.58" y1="477.3" x2="508.58" y2="480.2" stroke="#1c1c1c" stroke-width="1.1"/>
<text x="0" y="0" font-size="8.00" letter-spacing="-0.15" fill="#2a2a2a" stroke="#2a2a2a" stroke-width="0.24" text-anchor="middle" transform="translate(508.58,490.00)" >75</text>
<text x="0" y="0" font-size="9.4" font-weight="bold" fill="#2a2a2a" stroke="#2a2a2a" stroke-width="0.25" text-anchor="middle" transform="translate(68.4,382.8) rotate(-90) scale(0.68,1)">OS (%)</text>
<text x="0" y="0" font-size="8.8" font-weight="bold" fill="#2a2a2a" stroke="#2a2a2a" stroke-width="0.25" text-anchor="middle" transform="translate(302.4,503.4) scale(0.665,1)">Months</text>
<path d="M93.0,291.2 L171.0,291.2 L171.0,294.3 L199.0,294.3 L199.0,297.9 L236.5,297.9 L236.5,301.2 L347.5,301.2 L347.5,305.4 L440.7,305.4 L440.7,310.3 L506.0,310.3 L506.0,310.3" fill="none" stroke="#6693d6" stroke-width="0.9"/>
<path d="M93.0,291.2 L143.5,291.2 L143.5,291.8 L147.0,291.8 L147.0,294.8 L157.5,294.8 L157.5,297.8 L168.0,297.8 L168.0,300.4 L174.0,300.4 L174.0,301.5 L191.5,301.5 L191.5,303.0 L199.0,303.0 L199.0,305.5 L205.4,305.5 L205.4,308.6 L216.9,308.6 L216.9,310.1 L241.0,310.1 L241.0,314.5 L253.0,314.5 L253.0,320.9 L271.9,320.9 L271.9,323.4 L275.4,323.4 L275.4,326.7 L291.9,326.7 L291.9,330.6 L331.1,330.6 L331.1,336.7 L374.0,336.7 L374.0,339.2 L388.4,339.2 L388.4,341.0 L395.0,341.0 L395.0,343.1 L410.5,343.1 L410.5,344.8 L414.5,344.8 L414.5,346.5 L418.5,346.5 L418.5,348.8 L422.5,348.8 L422.5,351.1 L426.5,351.1 L426.5,352.3 L474.0,352.3 L474.0,358.1 L505.0,358.1 L505.0,358.1" fill="none" stroke="#5a9e3c" stroke-width="0.85"/>
<path d="M93.0,291.0 L129.6,291.0 L129.6,294.6 L158.5,294.6 L158.5,297.3 L180.0,297.3 L180.0,299.9 L200.8,299.9 L200.8,305.5 L234.2,305.5 L234.2,309.8 L237.5,309.8 L237.5,314.2 L243.7,314.2 L243.7,320.6 L285.7,320.6 L285.7,324.8 L298.6,324.8 L298.6,330.9 L372.5,330.9 L372.5,336.9 L428.5,336.9 L428.5,345.0 L506.3,345.0 L506.3,345.0" fill="none" stroke="#e2a055" stroke-width="0.85"/>
<path d="M98.3,291.2 L98.3,291.2 L98.3,297.3 L116.3,297.3 L116.3,312.5 L121.1,312.5 L121.1,319.6 L124.6,319.6 L124.6,327.3 L127.5,327.3 L127.5,334.8 L141.5,334.8 L141.5,342.5 L148.5,342.5 L148.5,349.2 L157.7,349.2 L157.7,357.3 L167.4,357.3 L167.4,365.0 L236.9,365.0 L236.9,373.7 L253.5,373.7 L253.5,384.2 L302.9,384.2 L302.9,394.2 L505.0,394.2 L505.0,394.2" fill="none" stroke="#8e2846" stroke-width="1.0"/>
<path d="M178.7,291.1 L181.7,296.4 L175.7,296.4 Z" fill="none" stroke="#6693d6" stroke-width="1.0"/>
<path d="M256.1,298.0 L259.1,303.3 L253.1,303.3 Z" fill="none" stroke="#6693d6" stroke-width="1.0"/>
<path d="M261.3,298.0 L264.3,303.3 L258.3,303.3 Z" fill="none" stroke="#6693d6" stroke-width="1.0"/>
<path d="M276.3,298.0 L279.3,303.3 L273.3,303.3 Z" fill="none" stroke="#6693d6" stroke-width="1.0"/>
<path d="M334.6,298.0 L337.6,303.3 L331.6,303.3 Z" fill="none" stroke="#6693d6" stroke-width="1.0"/>
<path d="M357.9,302.2 L360.9,307.5 L354.9,307.5 Z" fill="none" stroke="#6693d6" stroke-width="1.0"/>
<path d="M416.3,302.2 L419.3,307.5 L413.3,307.5 Z" fill="none" stroke="#6693d6" stroke-width="1.0"/>
<path d="M418.6,302.2 L421.6,307.5 L415.6,307.5 Z" fill="none" stroke="#6693d6" stroke-width="1.0"/>
<path d="M435.6,302.2 L438.6,307.5 L432.6,307.5 Z" fill="none" stroke="#6693d6" stroke-width="1.0"/>
<path d="M440.4,302.2 L443.4,307.5 L437.4,307.5 Z" fill="none" stroke="#6693d6" stroke-width="1.0"/>
<path d="M443.0,307.1 L446.0,312.4 L440.0,312.4 Z" fill="none" stroke="#6693d6" stroke-width="1.0"/>
<path d="M446.5,307.1 L449.5,312.4 L443.5,312.4 Z" fill="none" stroke="#6693d6" stroke-width="1.0"/>
<path d="M449.0,307.1 L452.0,312.4 L446.0,312.4 Z" fill="none" stroke="#6693d6" stroke-width="1.0"/>
<path d="M451.5,307.1 L454.5,312.4 L448.5,312.4 Z" fill="none" stroke="#6693d6" stroke-width="1.0"/>
<path d="M454.0,307.1 L457.0,312.4 L451.0,312.4 Z" fill="none" stroke="#6693d6" stroke-width="1.0"/>
<path d="M456.5,307.1 L459.5,312.4 L453.5,312.4 Z" fill="none" stroke="#6693d6" stroke-width="1.0"/>
<path d="M459.0,307.1 L462.0,312.4 L456.0,312.4 Z" fill="none" stroke="#6693d6" stroke-width="1.0"/>
<path d="M462.0,307.1 L465.0,312.4 L459.0,312.4 Z" fill="none" stroke="#6693d6" stroke-width="1.0"/>
<path d="M465.0,307.1 L468.0,312.4 L462.0,312.4 Z" fill="none" stroke="#6693d6" stroke-width="1.0"/>
<path d="M468.0,307.1 L471.0,312.4 L465.0,312.4 Z" fill="none" stroke="#6693d6" stroke-width="1.0"/>
<path d="M471.5,307.1 L474.5,312.4 L468.5,312.4 Z" fill="none" stroke="#6693d6" stroke-width="1.0"/>
<path d="M474.6,307.1 L477.6,312.4 L471.6,312.4 Z" fill="none" stroke="#6693d6" stroke-width="1.0"/>
<path d="M477.7,307.1 L480.7,312.4 L474.7,312.4 Z" fill="none" stroke="#6693d6" stroke-width="1.0"/>
<path d="M480.8,307.1 L483.8,312.4 L477.8,312.4 Z" fill="none" stroke="#6693d6" stroke-width="1.0"/>
<path d="M483.5,307.1 L486.5,312.4 L480.5,312.4 Z" fill="none" stroke="#6693d6" stroke-width="1.0"/>
<path d="M489.6,307.1 L492.6,312.4 L486.6,312.4 Z" fill="none" stroke="#6693d6" stroke-width="1.0"/>
<path d="M492.3,307.1 L495.3,312.4 L489.3,312.4 Z" fill="none" stroke="#6693d6" stroke-width="1.0"/>
<path d="M494.6,307.1 L497.6,312.4 L491.6,312.4 Z" fill="none" stroke="#6693d6" stroke-width="1.0"/>
<path d="M496.9,307.1 L499.9,312.4 L493.9,312.4 Z" fill="none" stroke="#6693d6" stroke-width="1.0"/>
<path d="M499.6,307.1 L502.6,312.4 L496.6,312.4 Z" fill="none" stroke="#6693d6" stroke-width="1.0"/>
<path d="M502.3,307.1 L505.3,312.4 L499.3,312.4 Z" fill="none" stroke="#6693d6" stroke-width="1.0"/>
<rect x="98.2" y="288.4" width="5.2" height="5.2" fill="none" stroke="#e2a055" stroke-width="0.95"/>
<rect x="153.9" y="292.0" width="5.2" height="5.2" fill="none" stroke="#e2a055" stroke-width="0.95"/>
<rect x="170.8" y="294.7" width="5.2" height="5.2" fill="none" stroke="#e2a055" stroke-width="0.95"/>
<rect x="246.8" y="318.0" width="5.2" height="5.2" fill="none" stroke="#e2a055" stroke-width="0.95"/>
<rect x="283.4" y="322.2" width="5.2" height="5.2" fill="none" stroke="#e2a055" stroke-width="0.95"/>
<rect x="299.7" y="328.3" width="5.2" height="5.2" fill="none" stroke="#e2a055" stroke-width="0.95"/>
<rect x="306.0" y="328.3" width="5.2" height="5.2" fill="none" stroke="#e2a055" stroke-width="0.95"/>
<rect x="311.8" y="328.3" width="5.2" height="5.2" fill="none" stroke="#e2a055" stroke-width="0.95"/>
<rect x="318.7" y="328.3" width="5.2" height="5.2" fill="none" stroke="#e2a055" stroke-width="0.95"/>
<rect x="340.6" y="328.3" width="5.2" height="5.2" fill="none" stroke="#e2a055" stroke-width="0.95"/>
<rect x="382.4" y="334.3" width="5.2" height="5.2" fill="none" stroke="#e2a055" stroke-width="0.95"/>
<rect x="402.4" y="334.3" width="5.2" height="5.2" fill="none" stroke="#e2a055" stroke-width="0.95"/>
<rect x="408.2" y="334.3" width="5.2" height="5.2" fill="none" stroke="#e2a055" stroke-width="0.95"/>
<rect x="414.3" y="334.3" width="5.2" height="5.2" fill="none" stroke="#e2a055" stroke-width="0.95"/>
<rect x="419.9" y="334.3" width="5.2" height="5.2" fill="none" stroke="#e2a055" stroke-width="0.95"/>
<rect x="433.5" y="342.4" width="5.2" height="5.2" fill="none" stroke="#e2a055" stroke-width="0.95"/>
<rect x="442.2" y="342.4" width="5.2" height="5.2" fill="none" stroke="#e2a055" stroke-width="0.95"/>
<rect x="453.6" y="342.4" width="5.2" height="5.2" fill="none" stroke="#e2a055" stroke-width="0.95"/>
<rect x="457.0" y="342.4" width="5.2" height="5.2" fill="none" stroke="#e2a055" stroke-width="0.95"/>
<rect x="466.8" y="342.4" width="5.2" height="5.2" fill="none" stroke="#e2a055" stroke-width="0.95"/>
<rect x="469.7" y="342.4" width="5.2" height="5.2" fill="none" stroke="#e2a055" stroke-width="0.95"/>
<rect x="474.9" y="342.4" width="5.2" height="5.2" fill="none" stroke="#e2a055" stroke-width="0.95"/>
<rect x="482.4" y="342.4" width="5.2" height="5.2" fill="none" stroke="#e2a055" stroke-width="0.95"/>
<rect x="485.3" y="342.4" width="5.2" height="5.2" fill="none" stroke="#e2a055" stroke-width="0.95"/>
<rect x="487.0" y="342.4" width="5.2" height="5.2" fill="none" stroke="#e2a055" stroke-width="0.95"/>
<rect x="489.3" y="342.4" width="5.2" height="5.2" fill="none" stroke="#e2a055" stroke-width="0.95"/>
<rect x="491.6" y="342.4" width="5.2" height="5.2" fill="none" stroke="#e2a055" stroke-width="0.95"/>
<rect x="493.9" y="342.4" width="5.2" height="5.2" fill="none" stroke="#e2a055" stroke-width="0.95"/>
<rect x="500.8" y="342.4" width="5.2" height="5.2" fill="none" stroke="#e2a055" stroke-width="0.95"/>
<circle cx="116.3" cy="291.2" r="2.55" fill="#4f9d2d" stroke="#3e7f22" stroke-width="0.6"/>
<circle cx="133.8" cy="291.2" r="2.55" fill="#4f9d2d" stroke="#3e7f22" stroke-width="0.6"/>
<circle cx="141.9" cy="291.2" r="2.55" fill="#4f9d2d" stroke="#3e7f22" stroke-width="0.6"/>
<circle cx="151.3" cy="294.8" r="2.55" fill="#4f9d2d" stroke="#3e7f22" stroke-width="0.6"/>
<circle cx="154.6" cy="294.8" r="2.55" fill="#4f9d2d" stroke="#3e7f22" stroke-width="0.6"/>
<circle cx="160.9" cy="297.8" r="2.55" fill="#4f9d2d" stroke="#3e7f22" stroke-width="0.6"/>
<circle cx="166.6" cy="297.8" r="2.55" fill="#4f9d2d" stroke="#3e7f22" stroke-width="0.6"/>
<circle cx="172.9" cy="300.4" r="2.55" fill="#4f9d2d" stroke="#3e7f22" stroke-width="0.6"/>
<circle cx="177.2" cy="301.5" r="2.55" fill="#4f9d2d" stroke="#3e7f22" stroke-width="0.6"/>
<circle cx="179.6" cy="301.5" r="2.55" fill="#4f9d2d" stroke="#3e7f22" stroke-width="0.6"/>
<circle cx="185.4" cy="301.5" r="2.55" fill="#4f9d2d" stroke="#3e7f22" stroke-width="0.6"/>
<circle cx="180.6" cy="301.5" r="2.55" fill="#4f9d2d" stroke="#3e7f22" stroke-width="0.6"/>
<circle cx="185.8" cy="301.5" r="2.55" fill="#4f9d2d" stroke="#3e7f22" stroke-width="0.6"/>
<circle cx="201.9" cy="305.5" r="2.55" fill="#4f9d2d" stroke="#3e7f22" stroke-width="0.6"/>
<circle cx="222.9" cy="310.1" r="2.55" fill="#4f9d2d" stroke="#3e7f22" stroke-width="0.6"/>
<circle cx="247.9" cy="314.5" r="2.55" fill="#4f9d2d" stroke="#3e7f22" stroke-width="0.6"/>
<circle cx="265.2" cy="320.9" r="2.55" fill="#4f9d2d" stroke="#3e7f22" stroke-width="0.6"/>
<circle cx="278.3" cy="326.7" r="2.55" fill="#4f9d2d" stroke="#3e7f22" stroke-width="0.6"/>
<circle cx="285.2" cy="326.7" r="2.55" fill="#4f9d2d" stroke="#3e7f22" stroke-width="0.6"/>
<circle cx="286.2" cy="326.7" r="2.55" fill="#4f9d2d" stroke="#3e7f22" stroke-width="0.6"/>
<circle cx="313.3" cy="330.6" r="2.55" fill="#4f9d2d" stroke="#3e7f22" stroke-width="0.6"/>
<circle cx="320.8" cy="330.6" r="2.55" fill="#4f9d2d" stroke="#3e7f22" stroke-width="0.6"/>
<circle cx="327.1" cy="330.6" r="2.55" fill="#4f9d2d" stroke="#3e7f22" stroke-width="0.6"/>
<circle cx="334.8" cy="336.7" r="2.55" fill="#4f9d2d" stroke="#3e7f22" stroke-width="0.6"/>
<circle cx="364.8" cy="336.7" r="2.55" fill="#4f9d2d" stroke="#3e7f22" stroke-width="0.6"/>
<circle cx="381.5" cy="339.2" r="2.55" fill="#4f9d2d" stroke="#3e7f22" stroke-width="0.6"/>
<circle cx="391.9" cy="341.0" r="2.55" fill="#4f9d2d" stroke="#3e7f22" stroke-width="0.6"/>
<circle cx="411.9" cy="344.8" r="2.55" fill="#4f9d2d" stroke="#3e7f22" stroke-width="0.6"/>
<circle cx="414.2" cy="344.8" r="2.55" fill="#4f9d2d" stroke="#3e7f22" stroke-width="0.6"/>
<circle cx="416.5" cy="346.5" r="2.55" fill="#4f9d2d" stroke="#3e7f22" stroke-width="0.6"/>
<circle cx="418.3" cy="346.5" r="2.55" fill="#4f9d2d" stroke="#3e7f22" stroke-width="0.6"/>
<circle cx="420.0" cy="348.8" r="2.55" fill="#4f9d2d" stroke="#3e7f22" stroke-width="0.6"/>
<circle cx="422.0" cy="348.8" r="2.55" fill="#4f9d2d" stroke="#3e7f22" stroke-width="0.6"/>
<circle cx="424.0" cy="351.1" r="2.55" fill="#4f9d2d" stroke="#3e7f22" stroke-width="0.6"/>
<circle cx="426.0" cy="351.1" r="2.55" fill="#4f9d2d" stroke="#3e7f22" stroke-width="0.6"/>
<circle cx="428.0" cy="352.3" r="2.55" fill="#4f9d2d" stroke="#3e7f22" stroke-width="0.6"/>
<circle cx="431.5" cy="352.3" r="2.55" fill="#4f9d2d" stroke="#3e7f22" stroke-width="0.6"/>
<circle cx="436.0" cy="352.3" r="2.55" fill="#4f9d2d" stroke="#3e7f22" stroke-width="0.6"/>
<circle cx="440.8" cy="352.3" r="2.55" fill="#4f9d2d" stroke="#3e7f22" stroke-width="0.6"/>
<circle cx="445.4" cy="352.3" r="2.55" fill="#4f9d2d" stroke="#3e7f22" stroke-width="0.6"/>
<circle cx="450.0" cy="352.3" r="2.55" fill="#4f9d2d" stroke="#3e7f22" stroke-width="0.6"/>
<circle cx="454.6" cy="352.3" r="2.55" fill="#4f9d2d" stroke="#3e7f22" stroke-width="0.6"/>
<circle cx="459.2" cy="352.3" r="2.55" fill="#4f9d2d" stroke="#3e7f22" stroke-width="0.6"/>
<circle cx="463.8" cy="352.3" r="2.55" fill="#4f9d2d" stroke="#3e7f22" stroke-width="0.6"/>
<circle cx="468.8" cy="352.3" r="2.55" fill="#4f9d2d" stroke="#3e7f22" stroke-width="0.6"/>
<circle cx="471.6" cy="352.3" r="2.55" fill="#4f9d2d" stroke="#3e7f22" stroke-width="0.6"/>
<circle cx="476.9" cy="358.1" r="2.55" fill="#4f9d2d" stroke="#3e7f22" stroke-width="0.6"/>
<circle cx="481.5" cy="358.1" r="2.55" fill="#4f9d2d" stroke="#3e7f22" stroke-width="0.6"/>
<circle cx="486.1" cy="358.1" r="2.55" fill="#4f9d2d" stroke="#3e7f22" stroke-width="0.6"/>
<circle cx="490.8" cy="358.1" r="2.55" fill="#4f9d2d" stroke="#3e7f22" stroke-width="0.6"/>
<circle cx="495.4" cy="358.1" r="2.55" fill="#4f9d2d" stroke="#3e7f22" stroke-width="0.6"/>
<circle cx="500.0" cy="358.1" r="2.55" fill="#4f9d2d" stroke="#3e7f22" stroke-width="0.6"/>
<circle cx="504.0" cy="358.1" r="2.55" fill="#4f9d2d" stroke="#3e7f22" stroke-width="0.6"/>
<path d="M103.3,293.6 L107.0,297.3 L103.3,301.0 L99.6,297.3 Z" fill="none" stroke="#8e2846" stroke-width="1.1"/>
<path d="M169.7,361.3 L173.4,365.0 L169.7,368.7 L166.0,365.0 Z" fill="none" stroke="#8e2846" stroke-width="1.1"/>
<path d="M181.0,361.3 L184.7,365.0 L181.0,368.7 L177.3,365.0 Z" fill="none" stroke="#8e2846" stroke-width="1.1"/>
<path d="M208.1,361.3 L211.8,365.0 L208.1,368.7 L204.4,365.0 Z" fill="none" stroke="#8e2846" stroke-width="1.1"/>
<path d="M241.3,370.0 L245.0,373.7 L241.3,377.4 L237.6,373.7 Z" fill="none" stroke="#8e2846" stroke-width="1.1"/>
<path d="M319.2,390.5 L322.9,394.2 L319.2,397.9 L315.5,394.2 Z" fill="none" stroke="#8e2846" stroke-width="1.1"/>
<path d="M421.5,390.5 L425.2,394.2 L421.5,397.9 L417.8,394.2 Z" fill="none" stroke="#8e2846" stroke-width="1.1"/>
<path d="M423.5,390.5 L427.2,394.2 L423.5,397.9 L419.8,394.2 Z" fill="none" stroke="#8e2846" stroke-width="1.1"/>
<path d="M443.7,390.5 L447.4,394.2 L443.7,397.9 L440.0,394.2 Z" fill="none" stroke="#8e2846" stroke-width="1.1"/>
<path d="M450.8,390.5 L454.5,394.2 L450.8,397.9 L447.1,394.2 Z" fill="none" stroke="#8e2846" stroke-width="1.1"/>
<path d="M460.0,390.5 L463.7,394.2 L460.0,397.9 L456.3,394.2 Z" fill="none" stroke="#8e2846" stroke-width="1.1"/>
<path d="M493.7,390.5 L497.4,394.2 L493.7,397.9 L490.0,394.2 Z" fill="none" stroke="#8e2846" stroke-width="1.1"/>
<path d="M501.9,390.5 L505.6,394.2 L501.9,397.9 L498.2,394.2 Z" fill="none" stroke="#8e2846" stroke-width="1.1"/>
<text x="0" y="0" font-size="8.00" letter-spacing="-0.15" fill="#2a2a2a" stroke="#2a2a2a" stroke-width="0.24" text-anchor="start" transform="translate(136.90,411.90)" >BOR</text>
<text x="0" y="0" font-size="8.00" textLength="73.60" lengthAdjust="spacing" fill="#2a2a2a" stroke="#2a2a2a" stroke-width="0.24" text-anchor="middle" transform="translate(222.00,411.90)" >Median DOR, months</text>
<text x="0" y="0" font-size="8.00" textLength="26.50" lengthAdjust="spacing" fill="#2a2a2a" stroke="#2a2a2a" stroke-width="0.24" text-anchor="middle" transform="translate(298.70,411.90)" >95% CI</text>
<line x1="136.9" y1="416.9" x2="326.2" y2="416.9" stroke="#333" stroke-width="1.1"/>
<line x1="111.2" y1="425" x2="127.9" y2="425" stroke="#6693d6" stroke-width="1.1"/>
<path d="M119.2,421.8 L122.2,427.1 L116.2,427.1 Z" fill="none" stroke="#6693d6" stroke-width="1.0"/>
<text x="0" y="0" font-size="8.00" letter-spacing="-0.15" fill="#2a2a2a" stroke="#2a2a2a" stroke-width="0.24" text-anchor="start" transform="translate(136.90,426.50)" >CR</text>
<text x="0" y="0" font-size="8.00" letter-spacing="-0.15" fill="#2a2a2a" stroke="#2a2a2a" stroke-width="0.24" text-anchor="middle" transform="translate(221.50,425.50)" >37.4</text>
<text x="0" y="0" font-size="8.00" textLength="28.30" lengthAdjust="spacing" fill="#2a2a2a" stroke="#2a2a2a" stroke-width="0.24" text-anchor="middle" transform="translate(298.80,425.50)" >26.7-NE</text>
<line x1="111.2" y1="436" x2="127.9" y2="436" stroke="#5a9e3c" stroke-width="1.1"/>
<circle cx="119.2" cy="436.0" r="2.55" fill="#4f9d2d" stroke="#3e7f22" stroke-width="0.6"/>
<text x="0" y="0" font-size="8.00" letter-spacing="-0.15" fill="#2a2a2a" stroke="#2a2a2a" stroke-width="0.24" text-anchor="start" transform="translate(136.90,438.50)" >PR</text>
<text x="0" y="0" font-size="8.00" letter-spacing="-0.15" fill="#2a2a2a" stroke="#2a2a2a" stroke-width="0.24" text-anchor="middle" transform="translate(221.50,437.50)" >15.2</text>
<text x="0" y="0" font-size="8.00" textLength="33.50" lengthAdjust="spacing" fill="#2a2a2a" stroke="#2a2a2a" stroke-width="0.24" text-anchor="middle" transform="translate(298.80,437.50)" >11.6-19.8</text>
<line x1="111.2" y1="447.7" x2="127.9" y2="447.7" stroke="#e2a055" stroke-width="1.1"/>
<rect x="116.6" y="445.1" width="5.2" height="5.2" fill="none" stroke="#e2a055" stroke-width="0.95"/>
<text x="0" y="0" font-size="8.00" letter-spacing="-0.15" fill="#2a2a2a" stroke="#2a2a2a" stroke-width="0.24" text-anchor="start" transform="translate(136.90,450.80)" >SD</text>
<text x="0" y="0" font-size="8.00" letter-spacing="-0.15" fill="#2a2a2a" stroke="#2a2a2a" stroke-width="0.24" text-anchor="middle" transform="translate(221.50,449.80)" >8.3</text>
<text x="0" y="0" font-size="8.00" letter-spacing="-0.15" fill="#2a2a2a" stroke="#2a2a2a" stroke-width="0.24" text-anchor="middle" transform="translate(298.80,449.80)" >5.7-11.3</text>
<line x1="111.2" y1="459.6" x2="127.9" y2="459.6" stroke="#8e2846" stroke-width="1.1"/>
<path d="M119.2,455.9 L122.9,459.6 L119.2,463.3 L115.5,459.6 Z" fill="none" stroke="#8e2846" stroke-width="1.1"/>
<text x="0" y="0" font-size="8.00" textLength="68.10" lengthAdjust="spacing" fill="#2a2a2a" stroke="#2a2a2a" stroke-width="0.24" text-anchor="start" transform="translate(136.90,462.50)" >Progressive disease</text>
<text x="0" y="0" font-size="8.00" letter-spacing="-0.15" fill="#2a2a2a" stroke="#2a2a2a" stroke-width="0.24" text-anchor="middle" transform="translate(221.50,461.50)" >2.1</text>
<text x="0" y="0" font-size="8.00" letter-spacing="-0.15" fill="#2a2a2a" stroke="#2a2a2a" stroke-width="0.24" text-anchor="middle" transform="translate(298.80,461.50)" >1.8-2.2</text>
<text x="0" y="0" font-size="8.00" textLength="87.40" lengthAdjust="spacing" fill="#2a2a2a" stroke="#2a2a2a" stroke-width="0.24" text-anchor="start" transform="translate(9.00,515.80)" >Number of patients at risk</text>
<text x="0" y="0" font-size="8.00" letter-spacing="-0.15" fill="#6f9ad3" stroke="#6f9ad3" stroke-width="0.24" text-anchor="end" transform="translate(76.30,527.50)" >CR</text>
<text x="0" y="0" font-size="8.00" letter-spacing="-0.15" fill="#5c82c2" stroke="#5c82c2" stroke-width="0.24" text-anchor="middle" transform="translate(93.00,527.50)" >52</text>
<text x="0" y="0" font-size="8.00" letter-spacing="-0.15" fill="#5c82c2" stroke="#5c82c2" stroke-width="0.24" text-anchor="middle" transform="translate(109.62,527.50)" >52</text>
<text x="0" y="0" font-size="8.00" letter-spacing="-0.15" fill="#5c82c2" stroke="#5c82c2" stroke-width="0.24" text-anchor="middle" transform="translate(126.25,527.50)" >52</text>
<text x="0" y="0" font-size="8.00" letter-spacing="-0.15" fill="#5c82c2" stroke="#5c82c2" stroke-width="0.24" text-anchor="middle" transform="translate(142.87,527.50)" >52</text>
<text x="0" y="0" font-size="8.00" letter-spacing="-0.15" fill="#5c82c2" stroke="#5c82c2" stroke-width="0.24" text-anchor="middle" transform="translate(159.49,527.50)" >52</text>
<text x="0" y="0" font-size="8.00" letter-spacing="-0.15" fill="#5c82c2" stroke="#5c82c2" stroke-width="0.24" text-anchor="middle" transform="translate(176.12,527.50)" >51</text>
<text x="0" y="0" font-size="8.00" letter-spacing="-0.15" fill="#5c82c2" stroke="#5c82c2" stroke-width="0.24" text-anchor="middle" transform="translate(192.74,527.50)" >50</text>
<text x="0" y="0" font-size="8.00" letter-spacing="-0.15" fill="#5c82c2" stroke="#5c82c2" stroke-width="0.24" text-anchor="middle" transform="translate(209.36,527.50)" >49</text>
<text x="0" y="0" font-size="8.00" letter-spacing="-0.15" fill="#5c82c2" stroke="#5c82c2" stroke-width="0.24" text-anchor="middle" transform="translate(225.98,527.50)" >49</text>
<text x="0" y="0" font-size="8.00" letter-spacing="-0.15" fill="#5c82c2" stroke="#5c82c2" stroke-width="0.24" text-anchor="middle" transform="translate(242.61,527.50)" >48</text>
<text x="0" y="0" font-size="8.00" letter-spacing="-0.15" fill="#5c82c2" stroke="#5c82c2" stroke-width="0.24" text-anchor="middle" transform="translate(259.23,527.50)" >47</text>
<text x="0" y="0" font-size="8.00" letter-spacing="-0.15" fill="#5c82c2" stroke="#5c82c2" stroke-width="0.24" text-anchor="middle" transform="translate(275.85,527.50)" >46</text>
<text x="0" y="0" font-size="8.00" letter-spacing="-0.15" fill="#5c82c2" stroke="#5c82c2" stroke-width="0.24" text-anchor="middle" transform="translate(292.48,527.50)" >45</text>
<text x="0" y="0" font-size="8.00" letter-spacing="-0.15" fill="#5c82c2" stroke="#5c82c2" stroke-width="0.24" text-anchor="middle" transform="translate(309.10,527.50)" >45</text>
<text x="0" y="0" font-size="8.00" letter-spacing="-0.15" fill="#5c82c2" stroke="#5c82c2" stroke-width="0.24" text-anchor="middle" transform="translate(325.72,527.50)" >45</text>
<text x="0" y="0" font-size="8.00" letter-spacing="-0.15" fill="#5c82c2" stroke="#5c82c2" stroke-width="0.24" text-anchor="middle" transform="translate(342.35,527.50)" >43</text>
<text x="0" y="0" font-size="8.00" letter-spacing="-0.15" fill="#5c82c2" stroke="#5c82c2" stroke-width="0.24" text-anchor="middle" transform="translate(358.97,527.50)" >41</text>
<text x="0" y="0" font-size="8.00" letter-spacing="-0.15" fill="#5c82c2" stroke="#5c82c2" stroke-width="0.24" text-anchor="middle" transform="translate(375.59,527.50)" >41</text>
<text x="0" y="0" font-size="8.00" letter-spacing="-0.15" fill="#5c82c2" stroke="#5c82c2" stroke-width="0.24" text-anchor="middle" transform="translate(392.21,527.50)" >41</text>
<text x="0" y="0" font-size="8.00" letter-spacing="-0.15" fill="#5c82c2" stroke="#5c82c2" stroke-width="0.24" text-anchor="middle" transform="translate(408.84,527.50)" >41</text>
<text x="0" y="0" font-size="8.00" letter-spacing="-0.15" fill="#5c82c2" stroke="#5c82c2" stroke-width="0.24" text-anchor="middle" transform="translate(425.46,527.50)" >39</text>
<text x="0" y="0" font-size="8.00" letter-spacing="-0.15" fill="#5c82c2" stroke="#5c82c2" stroke-width="0.24" text-anchor="middle" transform="translate(442.08,527.50)" >34</text>
<text x="0" y="0" font-size="8.00" letter-spacing="-0.15" fill="#5c82c2" stroke="#5c82c2" stroke-width="0.24" text-anchor="middle" transform="translate(458.71,527.50)" >20</text>
<text x="0" y="0" font-size="8.00" letter-spacing="-0.15" fill="#5c82c2" stroke="#5c82c2" stroke-width="0.24" text-anchor="middle" transform="translate(475.33,527.50)" >15</text>
<text x="0" y="0" font-size="8.00" letter-spacing="-0.15" fill="#5c82c2" stroke="#5c82c2" stroke-width="0.24" text-anchor="middle" transform="translate(491.95,527.50)" >8</text>
<text x="0" y="0" font-size="8.00" letter-spacing="-0.15" fill="#5c82c2" stroke="#5c82c2" stroke-width="0.24" text-anchor="middle" transform="translate(508.58,527.50)" >0</text>
<text x="0" y="0" font-size="8.00" letter-spacing="-0.15" fill="#64a64c" stroke="#64a64c" stroke-width="0.24" text-anchor="end" transform="translate(76.30,539.30)" >PR</text>
<text x="0" y="0" font-size="8.00" letter-spacing="-0.15" fill="#559643" stroke="#559643" stroke-width="0.24" text-anchor="middle" transform="translate(93.00,539.30)" >121</text>
<text x="0" y="0" font-size="8.00" letter-spacing="-0.15" fill="#559643" stroke="#559643" stroke-width="0.24" text-anchor="middle" transform="translate(109.62,539.30)" >121</text>
<text x="0" y="0" font-size="8.00" letter-spacing="-0.15" fill="#559643" stroke="#559643" stroke-width="0.24" text-anchor="middle" transform="translate(126.25,539.30)" >119</text>
<text x="0" y="0" font-size="8.00" letter-spacing="-0.15" fill="#559643" stroke="#559643" stroke-width="0.24" text-anchor="middle" transform="translate(142.87,539.30)" >116</text>
<text x="0" y="0" font-size="8.00" letter-spacing="-0.15" fill="#559643" stroke="#559643" stroke-width="0.24" text-anchor="middle" transform="translate(159.49,539.30)" >111</text>
<text x="0" y="0" font-size="8.00" letter-spacing="-0.15" fill="#559643" stroke="#559643" stroke-width="0.24" text-anchor="middle" transform="translate(176.12,539.30)" >105</text>
<text x="0" y="0" font-size="8.00" letter-spacing="-0.15" fill="#559643" stroke="#559643" stroke-width="0.24" text-anchor="middle" transform="translate(192.74,539.30)" >100</text>
<text x="0" y="0" font-size="8.00" letter-spacing="-0.15" fill="#559643" stroke="#559643" stroke-width="0.24" text-anchor="middle" transform="translate(209.36,539.30)" >94</text>
<text x="0" y="0" font-size="8.00" letter-spacing="-0.15" fill="#559643" stroke="#559643" stroke-width="0.24" text-anchor="middle" transform="translate(225.98,539.30)" >92</text>
<text x="0" y="0" font-size="8.00" letter-spacing="-0.15" fill="#559643" stroke="#559643" stroke-width="0.24" text-anchor="middle" transform="translate(242.61,539.30)" >90</text>
<text x="0" y="0" font-size="8.00" letter-spacing="-0.15" fill="#559643" stroke="#559643" stroke-width="0.24" text-anchor="middle" transform="translate(259.23,539.30)" >85</text>
<text x="0" y="0" font-size="8.00" letter-spacing="-0.15" fill="#559643" stroke="#559643" stroke-width="0.24" text-anchor="middle" transform="translate(275.85,539.30)" >83</text>
<text x="0" y="0" font-size="8.00" letter-spacing="-0.15" fill="#559643" stroke="#559643" stroke-width="0.24" text-anchor="middle" transform="translate(292.48,539.30)" >77</text>
<text x="0" y="0" font-size="8.00" letter-spacing="-0.15" fill="#559643" stroke="#559643" stroke-width="0.24" text-anchor="middle" transform="translate(309.10,539.30)" >77</text>
<text x="0" y="0" font-size="8.00" letter-spacing="-0.15" fill="#559643" stroke="#559643" stroke-width="0.24" text-anchor="middle" transform="translate(325.72,539.30)" >71</text>
<text x="0" y="0" font-size="8.00" letter-spacing="-0.15" fill="#559643" stroke="#559643" stroke-width="0.24" text-anchor="middle" transform="translate(342.35,539.30)" >67</text>
<text x="0" y="0" font-size="8.00" letter-spacing="-0.15" fill="#559643" stroke="#559643" stroke-width="0.24" text-anchor="middle" transform="translate(358.97,539.30)" >67</text>
<text x="0" y="0" font-size="8.00" letter-spacing="-0.15" fill="#559643" stroke="#559643" stroke-width="0.24" text-anchor="middle" transform="translate(375.59,539.30)" >65</text>
<text x="0" y="0" font-size="8.00" letter-spacing="-0.15" fill="#559643" stroke="#559643" stroke-width="0.24" text-anchor="middle" transform="translate(392.21,539.30)" >62</text>
<text x="0" y="0" font-size="8.00" letter-spacing="-0.15" fill="#559643" stroke="#559643" stroke-width="0.24" text-anchor="middle" transform="translate(408.84,539.30)" >61</text>
<text x="0" y="0" font-size="8.00" letter-spacing="-0.15" fill="#559643" stroke="#559643" stroke-width="0.24" text-anchor="middle" transform="translate(425.46,539.30)" >52</text>
<text x="0" y="0" font-size="8.00" letter-spacing="-0.15" fill="#559643" stroke="#559643" stroke-width="0.24" text-anchor="middle" transform="translate(442.08,539.30)" >41</text>
<text x="0" y="0" font-size="8.00" letter-spacing="-0.15" fill="#559643" stroke="#559643" stroke-width="0.24" text-anchor="middle" transform="translate(458.71,539.30)" >29</text>
<text x="0" y="0" font-size="8.00" letter-spacing="-0.15" fill="#559643" stroke="#559643" stroke-width="0.24" text-anchor="middle" transform="translate(475.33,539.30)" >21</text>
<text x="0" y="0" font-size="8.00" letter-spacing="-0.15" fill="#559643" stroke="#559643" stroke-width="0.24" text-anchor="middle" transform="translate(491.95,539.30)" >6</text>
<text x="0" y="0" font-size="8.00" letter-spacing="-0.15" fill="#559643" stroke="#559643" stroke-width="0.24" text-anchor="middle" transform="translate(508.58,539.30)" >0</text>
<text x="0" y="0" font-size="8.00" letter-spacing="-0.15" fill="#d9955a" stroke="#d9955a" stroke-width="0.24" text-anchor="end" transform="translate(76.30,550.80)" >SD</text>
<text x="0" y="0" font-size="8.00" letter-spacing="-0.15" fill="#d3935e" stroke="#d3935e" stroke-width="0.24" text-anchor="middle" transform="translate(93.00,550.80)" >40</text>
<text x="0" y="0" font-size="8.00" letter-spacing="-0.15" fill="#d3935e" stroke="#d3935e" stroke-width="0.24" text-anchor="middle" transform="translate(109.62,550.80)" >39</text>
<text x="0" y="0" font-size="8.00" letter-spacing="-0.15" fill="#d3935e" stroke="#d3935e" stroke-width="0.24" text-anchor="middle" transform="translate(126.25,550.80)" >39</text>
<text x="0" y="0" font-size="8.00" letter-spacing="-0.15" fill="#d3935e" stroke="#d3935e" stroke-width="0.24" text-anchor="middle" transform="translate(142.87,550.80)" >38</text>
<text x="0" y="0" font-size="8.00" letter-spacing="-0.15" fill="#d3935e" stroke="#d3935e" stroke-width="0.24" text-anchor="middle" transform="translate(159.49,550.80)" >37</text>
<text x="0" y="0" font-size="8.00" letter-spacing="-0.15" fill="#d3935e" stroke="#d3935e" stroke-width="0.24" text-anchor="middle" transform="translate(176.12,550.80)" >36</text>
<text x="0" y="0" font-size="8.00" letter-spacing="-0.15" fill="#d3935e" stroke="#d3935e" stroke-width="0.24" text-anchor="middle" transform="translate(192.74,550.80)" >35</text>
<text x="0" y="0" font-size="8.00" letter-spacing="-0.15" fill="#d3935e" stroke="#d3935e" stroke-width="0.24" text-anchor="middle" transform="translate(209.36,550.80)" >34</text>
<text x="0" y="0" font-size="8.00" letter-spacing="-0.15" fill="#d3935e" stroke="#d3935e" stroke-width="0.24" text-anchor="middle" transform="translate(225.98,550.80)" >34</text>
<text x="0" y="0" font-size="8.00" letter-spacing="-0.15" fill="#d3935e" stroke="#d3935e" stroke-width="0.24" text-anchor="middle" transform="translate(242.61,550.80)" >32</text>
<text x="0" y="0" font-size="8.00" letter-spacing="-0.15" fill="#d3935e" stroke="#d3935e" stroke-width="0.24" text-anchor="middle" transform="translate(259.23,550.80)" >30</text>
<text x="0" y="0" font-size="8.00" letter-spacing="-0.15" fill="#d3935e" stroke="#d3935e" stroke-width="0.24" text-anchor="middle" transform="translate(275.85,550.80)" >30</text>
<text x="0" y="0" font-size="8.00" letter-spacing="-0.15" fill="#d3935e" stroke="#d3935e" stroke-width="0.24" text-anchor="middle" transform="translate(292.48,550.80)" >29</text>
<text x="0" y="0" font-size="8.00" letter-spacing="-0.15" fill="#d3935e" stroke="#d3935e" stroke-width="0.24" text-anchor="middle" transform="translate(309.10,550.80)" >26</text>
<text x="0" y="0" font-size="8.00" letter-spacing="-0.15" fill="#d3935e" stroke="#d3935e" stroke-width="0.24" text-anchor="middle" transform="translate(325.72,550.80)" >24</text>
<text x="0" y="0" font-size="8.00" letter-spacing="-0.15" fill="#d3935e" stroke="#d3935e" stroke-width="0.24" text-anchor="middle" transform="translate(342.35,550.80)" >24</text>
<text x="0" y="0" font-size="8.00" letter-spacing="-0.15" fill="#d3935e" stroke="#d3935e" stroke-width="0.24" text-anchor="middle" transform="translate(358.97,550.80)" >23</text>
<text x="0" y="0" font-size="8.00" letter-spacing="-0.15" fill="#d3935e" stroke="#d3935e" stroke-width="0.24" text-anchor="middle" transform="translate(375.59,550.80)" >22</text>
<text x="0" y="0" font-size="8.00" letter-spacing="-0.15" fill="#d3935e" stroke="#d3935e" stroke-width="0.24" text-anchor="middle" transform="translate(392.21,550.80)" >21</text>
<text x="0" y="0" font-size="8.00" letter-spacing="-0.15" fill="#d3935e" stroke="#d3935e" stroke-width="0.24" text-anchor="middle" transform="translate(408.84,550.80)" >20</text>
<text x="0" y="0" font-size="8.00" letter-spacing="-0.15" fill="#d3935e" stroke="#d3935e" stroke-width="0.24" text-anchor="middle" transform="translate(425.46,550.80)" >17</text>
<text x="0" y="0" font-size="8.00" letter-spacing="-0.15" fill="#d3935e" stroke="#d3935e" stroke-width="0.24" text-anchor="middle" transform="translate(442.08,550.80)" >15</text>
<text x="0" y="0" font-size="8.00" letter-spacing="-0.15" fill="#d3935e" stroke="#d3935e" stroke-width="0.24" text-anchor="middle" transform="translate(458.71,550.80)" >13</text>
<text x="0" y="0" font-size="8.00" letter-spacing="-0.15" fill="#d3935e" stroke="#d3935e" stroke-width="0.24" text-anchor="middle" transform="translate(475.33,550.80)" >10</text>
<text x="0" y="0" font-size="8.00" letter-spacing="-0.15" fill="#d3935e" stroke="#d3935e" stroke-width="0.24" text-anchor="middle" transform="translate(491.95,550.80)" >3</text>
<text x="0" y="0" font-size="8.00" letter-spacing="-0.15" fill="#d3935e" stroke="#d3935e" stroke-width="0.24" text-anchor="middle" transform="translate(508.58,550.80)" >0</text>
<text x="0" y="0" font-size="8.00" textLength="67.90" lengthAdjust="spacing" fill="#8c2a48" stroke="#8c2a48" stroke-width="0.24" text-anchor="end" transform="translate(76.30,562.50)" >Progressive disease</text>
<text x="0" y="0" font-size="8.00" letter-spacing="-0.15" fill="#6a2038" stroke="#6a2038" stroke-width="0.24" text-anchor="middle" transform="translate(93.00,562.50)" >26</text>
<text x="0" y="0" font-size="8.00" letter-spacing="-0.15" fill="#6a2038" stroke="#6a2038" stroke-width="0.24" text-anchor="middle" transform="translate(109.62,562.50)" >24</text>
<text x="0" y="0" font-size="8.00" letter-spacing="-0.15" fill="#6a2038" stroke="#6a2038" stroke-width="0.24" text-anchor="middle" transform="translate(126.25,562.50)" >20</text>
<text x="0" y="0" font-size="8.00" letter-spacing="-0.15" fill="#6a2038" stroke="#6a2038" stroke-width="0.24" text-anchor="middle" transform="translate(142.87,562.50)" >18</text>
<text x="0" y="0" font-size="8.00" letter-spacing="-0.15" fill="#6a2038" stroke="#6a2038" stroke-width="0.24" text-anchor="middle" transform="translate(159.49,562.50)" >16</text>
<text x="0" y="0" font-size="8.00" letter-spacing="-0.15" fill="#6a2038" stroke="#6a2038" stroke-width="0.24" text-anchor="middle" transform="translate(176.12,562.50)" >14</text>
<text x="0" y="0" font-size="8.00" letter-spacing="-0.15" fill="#6a2038" stroke="#6a2038" stroke-width="0.24" text-anchor="middle" transform="translate(192.74,562.50)" >13</text>
<text x="0" y="0" font-size="8.00" letter-spacing="-0.15" fill="#6a2038" stroke="#6a2038" stroke-width="0.24" text-anchor="middle" transform="translate(209.36,562.50)" >12</text>
<text x="0" y="0" font-size="8.00" letter-spacing="-0.15" fill="#6a2038" stroke="#6a2038" stroke-width="0.24" text-anchor="middle" transform="translate(225.98,562.50)" >12</text>
<text x="0" y="0" font-size="8.00" letter-spacing="-0.15" fill="#6a2038" stroke="#6a2038" stroke-width="0.24" text-anchor="middle" transform="translate(242.61,562.50)" >10</text>
<text x="0" y="0" font-size="8.00" letter-spacing="-0.15" fill="#6a2038" stroke="#6a2038" stroke-width="0.24" text-anchor="middle" transform="translate(259.23,562.50)" >9</text>
<text x="0" y="0" font-size="8.00" letter-spacing="-0.15" fill="#6a2038" stroke="#6a2038" stroke-width="0.24" text-anchor="middle" transform="translate(275.85,562.50)" >9</text>
<text x="0" y="0" font-size="8.00" letter-spacing="-0.15" fill="#6a2038" stroke="#6a2038" stroke-width="0.24" text-anchor="middle" transform="translate(292.48,562.50)" >9</text>
<text x="0" y="0" font-size="8.00" letter-spacing="-0.15" fill="#6a2038" stroke="#6a2038" stroke-width="0.24" text-anchor="middle" transform="translate(309.10,562.50)" >0</text>
<text x="0" y="0" font-size="8.00" letter-spacing="-0.15" fill="#6a2038" stroke="#6a2038" stroke-width="0.24" text-anchor="middle" transform="translate(325.72,562.50)" >7</text>
<text x="0" y="0" font-size="8.00" letter-spacing="-0.15" fill="#6a2038" stroke="#6a2038" stroke-width="0.24" text-anchor="middle" transform="translate(342.35,562.50)" >7</text>
<text x="0" y="0" font-size="8.00" letter-spacing="-0.15" fill="#6a2038" stroke="#6a2038" stroke-width="0.24" text-anchor="middle" transform="translate(358.97,562.50)" >7</text>
<text x="0" y="0" font-size="8.00" letter-spacing="-0.15" fill="#6a2038" stroke="#6a2038" stroke-width="0.24" text-anchor="middle" transform="translate(375.59,562.50)" >7</text>
<text x="0" y="0" font-size="8.00" letter-spacing="-0.15" fill="#6a2038" stroke="#6a2038" stroke-width="0.24" text-anchor="middle" transform="translate(392.21,562.50)" >7</text>
<text x="0" y="0" font-size="8.00" letter-spacing="-0.15" fill="#6a2038" stroke="#6a2038" stroke-width="0.24" text-anchor="middle" transform="translate(408.84,562.50)" >7</text>
<text x="0" y="0" font-size="8.00" letter-spacing="-0.15" fill="#6a2038" stroke="#6a2038" stroke-width="0.24" text-anchor="middle" transform="translate(425.46,562.50)" >5</text>
<text x="0" y="0" font-size="8.00" letter-spacing="-0.15" fill="#6a2038" stroke="#6a2038" stroke-width="0.24" text-anchor="middle" transform="translate(442.08,562.50)" >5</text>
<text x="0" y="0" font-size="8.00" letter-spacing="-0.15" fill="#6a2038" stroke="#6a2038" stroke-width="0.24" text-anchor="middle" transform="translate(458.71,562.50)" >3</text>
<text x="0" y="0" font-size="8.00" letter-spacing="-0.15" fill="#6a2038" stroke="#6a2038" stroke-width="0.24" text-anchor="middle" transform="translate(475.33,562.50)" >2</text>
<text x="0" y="0" font-size="8.00" letter-spacing="-0.15" fill="#6a2038" stroke="#6a2038" stroke-width="0.24" text-anchor="middle" transform="translate(491.95,562.50)" >2</text>
<text x="0" y="0" font-size="8.00" letter-spacing="-0.15" fill="#6a2038" stroke="#6a2038" stroke-width="0.24" text-anchor="middle" transform="translate(508.58,562.50)" >0</text>
</svg>
<div id="frame"></div>
</div>
</body></html>
